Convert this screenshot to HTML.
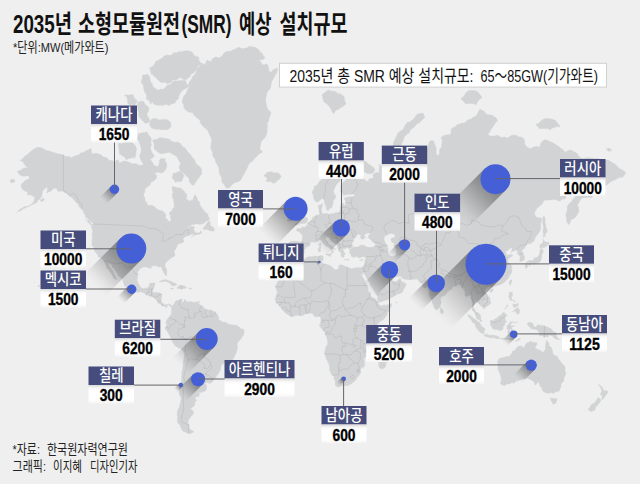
<!DOCTYPE html>
<html lang="ko"><head><meta charset="utf-8"><title>2035년 소형모듈원전(SMR) 예상 설치규모</title>
<style>html,body{margin:0;padding:0;background:#efefef;}body{width:640px;height:484px;overflow:hidden;}</style>
</head><body>
<svg width="640" height="484" viewBox="0 0 640 484" style="display:block;font-family:'Liberation Sans','Noto Sans CJK KR',sans-serif">
<defs>
<linearGradient id="gca" gradientUnits="userSpaceOnUse" x1="114.5" y1="189.3" x2="103.0" y2="200.8"><stop offset="0" stop-color="#000" stop-opacity=".42"/><stop offset=".3" stop-color="#000" stop-opacity=".30"/><stop offset=".6" stop-color="#000" stop-opacity=".15"/><stop offset=".85" stop-color="#000" stop-opacity=".04"/><stop offset="1" stop-color="#000" stop-opacity="0"/></linearGradient>
<linearGradient id="gus" gradientUnits="userSpaceOnUse" x1="131.3" y1="248.6" x2="94.6" y2="285.4"><stop offset="0" stop-color="#000" stop-opacity=".42"/><stop offset=".3" stop-color="#000" stop-opacity=".30"/><stop offset=".6" stop-color="#000" stop-opacity=".15"/><stop offset=".85" stop-color="#000" stop-opacity=".04"/><stop offset="1" stop-color="#000" stop-opacity="0"/></linearGradient>
<linearGradient id="gmx" gradientUnits="userSpaceOnUse" x1="131.7" y1="289.2" x2="120.2" y2="300.7"><stop offset="0" stop-color="#000" stop-opacity=".42"/><stop offset=".3" stop-color="#000" stop-opacity=".30"/><stop offset=".6" stop-color="#000" stop-opacity=".15"/><stop offset=".85" stop-color="#000" stop-opacity=".04"/><stop offset="1" stop-color="#000" stop-opacity="0"/></linearGradient>
<linearGradient id="gbr" gradientUnits="userSpaceOnUse" x1="206.8" y1="339.0" x2="180.1" y2="365.7"><stop offset="0" stop-color="#000" stop-opacity=".42"/><stop offset=".3" stop-color="#000" stop-opacity=".30"/><stop offset=".6" stop-color="#000" stop-opacity=".15"/><stop offset=".85" stop-color="#000" stop-opacity=".04"/><stop offset="1" stop-color="#000" stop-opacity="0"/></linearGradient>
<linearGradient id="gcl" gradientUnits="userSpaceOnUse" x1="180.9" y1="385.0" x2="175.5" y2="390.4"><stop offset="0" stop-color="#000" stop-opacity=".42"/><stop offset=".3" stop-color="#000" stop-opacity=".30"/><stop offset=".6" stop-color="#000" stop-opacity=".15"/><stop offset=".85" stop-color="#000" stop-opacity=".04"/><stop offset="1" stop-color="#000" stop-opacity="0"/></linearGradient>
<linearGradient id="gar" gradientUnits="userSpaceOnUse" x1="198.1" y1="379.2" x2="180.9" y2="396.3"><stop offset="0" stop-color="#000" stop-opacity=".42"/><stop offset=".3" stop-color="#000" stop-opacity=".30"/><stop offset=".6" stop-color="#000" stop-opacity=".15"/><stop offset=".85" stop-color="#000" stop-opacity=".04"/><stop offset="1" stop-color="#000" stop-opacity="0"/></linearGradient>
<linearGradient id="guk" gradientUnits="userSpaceOnUse" x1="295.6" y1="208.8" x2="266.2" y2="238.2"><stop offset="0" stop-color="#000" stop-opacity=".42"/><stop offset=".3" stop-color="#000" stop-opacity=".30"/><stop offset=".6" stop-color="#000" stop-opacity=".15"/><stop offset=".85" stop-color="#000" stop-opacity=".04"/><stop offset="1" stop-color="#000" stop-opacity="0"/></linearGradient>
<linearGradient id="gtn" gradientUnits="userSpaceOnUse" x1="319.5" y1="261.9" x2="316.6" y2="264.8"><stop offset="0" stop-color="#000" stop-opacity=".42"/><stop offset=".3" stop-color="#000" stop-opacity=".30"/><stop offset=".6" stop-color="#000" stop-opacity=".15"/><stop offset=".85" stop-color="#000" stop-opacity=".04"/><stop offset="1" stop-color="#000" stop-opacity="0"/></linearGradient>
<linearGradient id="geu" gradientUnits="userSpaceOnUse" x1="341.2" y1="227.7" x2="319.8" y2="249.1"><stop offset="0" stop-color="#000" stop-opacity=".42"/><stop offset=".3" stop-color="#000" stop-opacity=".30"/><stop offset=".6" stop-color="#000" stop-opacity=".15"/><stop offset=".85" stop-color="#000" stop-opacity=".04"/><stop offset="1" stop-color="#000" stop-opacity="0"/></linearGradient>
<linearGradient id="gne" gradientUnits="userSpaceOnUse" x1="404.6" y1="244.8" x2="390.9" y2="258.5"><stop offset="0" stop-color="#000" stop-opacity=".42"/><stop offset=".3" stop-color="#000" stop-opacity=".30"/><stop offset=".6" stop-color="#000" stop-opacity=".15"/><stop offset=".85" stop-color="#000" stop-opacity=".04"/><stop offset="1" stop-color="#000" stop-opacity="0"/></linearGradient>
<linearGradient id="gin" gradientUnits="userSpaceOnUse" x1="436.2" y1="283.3" x2="414.8" y2="304.7"><stop offset="0" stop-color="#000" stop-opacity=".42"/><stop offset=".3" stop-color="#000" stop-opacity=".30"/><stop offset=".6" stop-color="#000" stop-opacity=".15"/><stop offset=".85" stop-color="#000" stop-opacity=".04"/><stop offset="1" stop-color="#000" stop-opacity="0"/></linearGradient>
<linearGradient id="gme" gradientUnits="userSpaceOnUse" x1="389.5" y1="269.8" x2="368.1" y2="291.2"><stop offset="0" stop-color="#000" stop-opacity=".42"/><stop offset=".3" stop-color="#000" stop-opacity=".30"/><stop offset=".6" stop-color="#000" stop-opacity=".15"/><stop offset=".85" stop-color="#000" stop-opacity=".04"/><stop offset="1" stop-color="#000" stop-opacity="0"/></linearGradient>
<linearGradient id="gru" gradientUnits="userSpaceOnUse" x1="495.5" y1="179.2" x2="458.8" y2="215.9"><stop offset="0" stop-color="#000" stop-opacity=".42"/><stop offset=".3" stop-color="#000" stop-opacity=".30"/><stop offset=".6" stop-color="#000" stop-opacity=".15"/><stop offset=".85" stop-color="#000" stop-opacity=".04"/><stop offset="1" stop-color="#000" stop-opacity="0"/></linearGradient>
<linearGradient id="gcn" gradientUnits="userSpaceOnUse" x1="486.0" y1="264.2" x2="435.8" y2="314.4"><stop offset="0" stop-color="#000" stop-opacity=".42"/><stop offset=".3" stop-color="#000" stop-opacity=".30"/><stop offset=".6" stop-color="#000" stop-opacity=".15"/><stop offset=".85" stop-color="#000" stop-opacity=".04"/><stop offset="1" stop-color="#000" stop-opacity="0"/></linearGradient>
<linearGradient id="gsea" gradientUnits="userSpaceOnUse" x1="513.8" y1="334.2" x2="504.6" y2="343.4"><stop offset="0" stop-color="#000" stop-opacity=".42"/><stop offset=".3" stop-color="#000" stop-opacity=".30"/><stop offset=".6" stop-color="#000" stop-opacity=".15"/><stop offset=".85" stop-color="#000" stop-opacity=".04"/><stop offset="1" stop-color="#000" stop-opacity="0"/></linearGradient>
<linearGradient id="gau" gradientUnits="userSpaceOnUse" x1="531.2" y1="365.2" x2="517.5" y2="378.9"><stop offset="0" stop-color="#000" stop-opacity=".42"/><stop offset=".3" stop-color="#000" stop-opacity=".30"/><stop offset=".6" stop-color="#000" stop-opacity=".15"/><stop offset=".85" stop-color="#000" stop-opacity=".04"/><stop offset="1" stop-color="#000" stop-opacity="0"/></linearGradient>
<linearGradient id="gza" gradientUnits="userSpaceOnUse" x1="343.7" y1="378.8" x2="338.1" y2="384.4"><stop offset="0" stop-color="#000" stop-opacity=".42"/><stop offset=".3" stop-color="#000" stop-opacity=".30"/><stop offset=".6" stop-color="#000" stop-opacity=".15"/><stop offset=".85" stop-color="#000" stop-opacity=".04"/><stop offset="1" stop-color="#000" stop-opacity="0"/></linearGradient>
<linearGradient id="wb" x1="0" y1="0" x2="0" y2="1"><stop offset="0" stop-color="#d9d9d9"/><stop offset=".16" stop-color="#f7f7f7"/><stop offset=".3" stop-color="#fff"/><stop offset=".8" stop-color="#fff"/><stop offset="1" stop-color="#f4f4f4"/></linearGradient>
</defs>
<rect width="640" height="484" fill="#efefef"/>
<g fill="#d2d3d5" stroke="#d2d3d5" stroke-width=".4" stroke-linejoin="round">
<path d="M63.4,155.1 62.2,154.4 60.6,154.0 58.4,154.1 56.6,153.3 54.1,152.6 51.7,151.9 49.8,151.1 48.1,151.0 44.2,149.4 42.0,147.7 39.9,147.6 37.0,147.2 35.6,148.4 34.1,148.8 32.7,150.1 31.1,151.0 30.0,152.3 28.7,153.1 27.8,154.2 26.0,155.5 24.5,156.3 23.6,157.8 22.0,159.1 20.0,160.6 21.2,160.8 22.3,161.3 23.3,162.6 24.3,163.9 25.0,165.2 25.8,166.0 26.9,166.9 27.7,167.9 26.7,168.0 25.1,167.7 23.6,168.5 22.6,168.7 21.3,169.6 20.6,170.4 18.8,170.6 17.4,171.3 18.1,172.7 19.1,174.2 20.9,175.4 22.9,176.2 24.4,176.3 26.3,176.0 27.7,175.4 29.1,176.9 29.4,178.9 28.3,179.1 27.0,179.7 25.6,180.5 24.3,180.8 23.5,182.5 22.1,183.2 21.3,184.5 20.9,186.3 21.9,187.9 22.6,189.8 23.6,189.9 24.8,190.9 26.4,191.7 27.7,191.5 27.5,192.8 27.7,194.9 29.7,194.8 31.0,195.1 32.3,195.7 32.8,196.5 34.1,196.3 35.3,195.5 34.8,196.6 34.4,197.5 34.5,199.7 33.8,200.9 33.2,203.1 32.1,203.3 31.1,204.4 29.9,205.3 29.6,206.3 27.5,207.1 26.0,207.4 24.7,208.2 23.7,208.2 22.6,209.5 21.0,210.2 19.8,211.1 18.4,211.3 16.6,212.3 17.8,211.6 19.1,209.9 20.8,208.7 22.6,208.0 23.6,207.0 24.7,206.6 26.6,206.7 27.7,206.2 28.8,205.8 29.9,205.1 31.6,205.1 32.8,204.4 34.0,203.6 35.5,203.5 36.6,202.4 37.9,200.4 38.9,199.4 39.9,198.8 41.3,197.2 41.9,195.2 42.1,193.9 42.4,192.1 43.2,189.9 44.6,188.9 45.5,188.1 46.6,187.8 48.1,187.4 47.9,188.6 47.0,189.6 47.2,191.3 46.4,193.2 47.6,192.5 48.3,191.9 49.8,191.5 50.9,191.1 52.0,190.0 53.2,188.7 54.9,188.1 56.3,188.6 57.3,189.4 57.6,190.5 58.3,191.5 60.4,191.1 61.9,190.9 63.4,191.5 65.2,192.9 66.7,193.1 67.7,194.0 68.5,194.9 69.8,196.6 71.2,196.9 71.9,197.5 73.3,199.1 74.1,200.4 75.3,201.3 75.9,202.4 77.0,203.2 78.1,204.2 78.7,205.9 79.8,207.6 81.3,208.9 82.1,209.7 82.8,210.5 83.4,211.7 83.9,213.2 85.3,214.9 85.4,216.2 85.6,217.4 87.0,218.1 88.4,219.4 89.6,220.2 90.7,221.4 92.2,222.4 93.7,223.8 92.4,224.9 91.5,225.8 91.4,227.8 92.3,229.1 92.4,230.4 92.8,231.6 92.6,232.8 92.0,234.7 92.4,236.4 92.3,237.5 92.3,239.2 91.9,241.1 92.0,242.8 92.0,244.9 92.4,246.3 93.3,247.1 94.0,248.3 94.1,249.5 94.8,251.3 95.8,252.5 96.7,253.7 97.6,254.6 97.9,255.7 98.2,257.1 99.6,257.4 100.8,257.8 101.7,258.4 103.0,259.7 103.9,261.0 104.8,262.3 105.2,263.5 106.0,265.4 106.7,266.7 106.9,268.2 108.5,269.3 109.3,270.6 110.2,272.2 110.9,273.0 111.6,274.0 112.3,275.3 112.8,276.0 113.6,277.9 114.7,278.8 116.2,279.7 117.1,278.8 115.9,277.7 115.4,276.0 114.5,274.7 113.6,273.2 113.2,271.2 112.4,270.5 111.4,269.3 110.3,267.8 109.4,266.4 108.8,265.0 108.0,263.0 109.3,263.7 111.1,263.8 111.8,265.3 112.3,267.4 114.0,268.3 114.6,269.4 115.4,270.9 116.7,272.3 117.4,274.1 118.1,275.0 118.9,276.4 120.5,277.3 121.4,278.3 122.7,279.7 122.9,281.6 123.9,283.4 124.1,284.4 124.2,285.6 125.9,286.7 127.3,288.3 128.8,288.9 130.0,289.4 130.7,290.1 132.5,291.0 134.1,291.2 135.9,291.9 137.0,292.1 138.3,292.4 139.6,291.7 141.7,292.0 142.9,292.5 144.3,293.3 145.4,294.1 146.9,295.0 148.7,295.4 150.3,296.3 151.9,296.5 153.7,297.3 154.5,297.7 155.3,298.9 156.2,299.4 157.4,301.2 157.9,302.9 159.6,303.7 160.5,304.1 161.3,305.1 163.0,306.0 164.7,306.3 165.6,307.2 167.3,307.2 166.8,305.8 168.1,304.6 169.8,305.8 171.2,307.2 171.9,305.5 170.0,304.6 169.0,303.7 167.8,304.6 166.4,304.6 165.0,305.0 163.9,304.6 162.9,303.6 162.2,302.9 161.0,301.2 161.2,299.9 161.3,298.5 161.5,297.1 161.7,295.9 161.8,294.2 160.5,293.3 159.6,292.7 158.1,292.9 157.1,292.6 155.8,292.5 154.5,292.7 152.8,292.7 152.3,291.5 153.3,289.7 153.7,287.9 154.5,286.1 154.9,284.4 155.4,283.4 154.5,282.5 153.4,282.9 152.0,282.9 150.7,282.9 149.7,283.4 149.3,284.5 149.1,286.1 148.5,286.9 147.7,287.8 146.4,288.2 145.1,288.1 144.2,288.4 142.6,288.5 140.9,287.4 139.7,286.3 139.2,284.9 138.0,283.4 138.0,281.9 137.1,280.7 137.3,279.6 137.5,278.4 137.5,277.0 137.7,275.4 138.0,274.1 137.5,272.7 137.8,271.3 139.1,270.2 140.0,269.1 141.3,268.1 142.3,267.6 143.6,267.0 145.1,267.0 146.2,267.0 147.7,267.4 148.6,267.9 150.3,268.2 151.6,268.0 151.1,266.0 152.4,266.0 153.7,265.8 154.9,265.8 156.2,265.6 157.1,266.4 158.3,267.0 159.2,267.0 160.5,266.4 161.6,267.5 162.2,268.4 162.1,269.5 162.7,270.7 163.5,271.9 163.9,273.2 164.9,274.3 165.2,275.4 166.4,275.6 167.1,274.1 166.6,272.7 166.8,271.3 166.6,270.1 166.3,269.1 165.6,267.4 165.0,266.3 164.9,265.0 165.3,264.0 165.6,262.4 167.1,261.4 168.1,260.4 169.4,259.4 170.7,258.6 171.8,257.4 173.2,256.9 174.9,255.7 175.0,254.3 174.1,252.5 174.1,251.3 174.9,250.0 175.9,248.9 176.6,247.1 177.1,245.5 177.5,244.5 179.4,243.6 180.9,243.3 182.4,242.7 183.5,242.0 184.3,241.1 183.4,240.2 182.9,239.2 183.8,237.9 184.3,236.9 186.0,236.6 186.9,235.8 188.3,235.7 189.6,234.9 191.3,234.1 192.7,234.2 193.9,233.9 193.2,235.9 192.0,236.5 191.1,237.6 192.7,236.2 194.6,235.5 195.9,234.7 197.3,234.4 198.6,234.5 199.9,233.9 201.0,233.4 201.7,232.6 201.0,230.6 200.2,232.0 198.3,233.0 196.4,232.8 194.9,232.2 194.4,230.4 193.5,229.6 193.9,228.2 194.6,226.9 193.3,226.6 191.2,226.3 190.2,226.6 189.4,227.6 187.7,227.6 186.7,228.4 185.0,229.6 184.2,230.3 183.1,231.0 184.8,229.9 185.9,228.2 187.1,227.8 188.2,226.4 189.5,226.3 190.5,225.5 191.4,225.1 192.6,224.5 194.1,224.5 195.7,224.0 197.6,223.8 199.7,224.6 201.4,223.9 202.5,223.8 203.9,223.3 204.7,222.8 205.3,221.6 206.9,221.0 208.7,220.7 208.9,219.4 209.6,218.6 208.5,217.0 208.2,215.8 207.9,214.3 207.1,213.3 205.7,212.7 204.9,211.3 203.7,210.5 202.7,208.7 201.7,207.8 201.1,206.6 200.3,205.9 199.8,204.4 199.9,203.4 199.4,202.1 198.6,201.0 197.4,200.0 197.1,198.3 196.9,197.2 196.0,196.2 195.2,194.5 194.5,195.7 193.5,197.2 193.4,198.7 192.6,199.9 190.6,200.4 189.2,201.2 187.8,199.7 185.8,198.9 186.6,197.9 186.9,196.5 186.6,194.9 186.7,193.8 185.9,193.4 184.8,192.4 184.1,191.0 183.2,190.0 182.0,189.5 180.7,187.8 179.4,187.9 178.4,188.0 176.4,187.4 175.4,187.1 174.0,186.7 172.2,186.7 172.0,187.8 172.1,189.4 172.7,190.5 173.0,192.1 172.7,193.3 172.2,194.5 172.6,195.9 172.2,197.2 173.0,198.4 173.5,199.4 173.6,201.1 173.9,202.1 174.1,203.7 173.9,205.1 174.7,206.9 173.8,207.4 172.8,208.2 172.2,209.9 171.2,211.5 169.6,212.3 169.4,214.3 170.3,215.5 170.5,217.2 171.0,219.0 170.9,221.1 169.5,221.3 167.8,221.6 167.8,220.3 167.1,219.2 165.4,217.8 165.8,215.8 165.4,214.3 164.9,212.9 163.7,212.3 162.8,210.8 160.7,210.6 159.4,210.5 158.4,209.8 157.3,209.1 156.3,208.4 155.2,207.5 154.3,206.4 153.3,205.9 152.4,205.5 150.9,205.3 149.3,205.4 147.5,205.3 147.2,203.5 146.5,202.1 145.7,201.5 144.8,200.2 144.9,198.9 145.1,197.9 143.8,196.3 143.5,195.0 143.9,193.3 144.9,192.2 144.8,190.0 145.7,188.2 146.8,187.4 147.5,186.7 148.6,185.8 149.4,185.4 150.4,184.2 150.6,182.9 151.6,181.7 153.5,181.1 154.4,180.5 155.2,179.4 156.5,177.9 156.6,176.5 156.9,175.7 155.9,174.8 155.3,174.1 153.5,173.8 154.7,173.8 155.9,172.9 157.7,171.9 159.2,172.5 160.3,172.7 161.3,173.1 162.8,172.7 164.0,171.5 165.4,169.9 166.2,168.4 166.6,166.8 167.0,165.2 166.6,163.8 166.4,162.7 165.5,161.7 165.0,160.1 165.4,158.6 163.6,158.7 162.5,158.8 161.1,158.2 160.0,159.5 159.4,160.8 159.4,161.7 159.4,162.9 158.9,164.2 158.6,165.4 157.7,166.7 156.5,165.9 154.3,165.9 153.4,164.0 152.6,162.5 151.8,161.7 151.3,160.5 150.1,159.5 149.1,158.5 147.5,157.3 146.8,155.7 145.4,153.5 145.2,151.7 144.8,149.9 143.5,149.1 142.1,147.9 141.9,149.9 141.8,151.2 141.2,152.4 140.3,153.8 139.6,156.2 139.9,158.0 140.7,159.4 141.2,160.7 141.9,161.6 142.6,162.8 143.1,163.7 143.0,165.2 141.6,165.1 140.7,165.4 139.3,165.4 138.2,164.5 136.6,164.1 135.2,163.6 133.9,164.0 131.8,163.4 130.2,162.9 129.5,162.2 128.0,161.8 126.5,161.4 124.7,161.1 123.1,161.1 122.2,161.7 120.5,162.4 119.6,163.1 118.6,161.2 118.8,159.8 117.4,160.2 116.3,160.3 115.4,161.4 114.5,161.9 112.8,160.6 111.2,160.6 109.4,160.6 108.2,159.0 106.8,157.7 105.6,157.5 104.5,157.1 102.6,156.4 101.7,155.4 101.1,154.5 99.4,154.4 97.5,153.3 95.6,153.6 93.9,153.5 92.8,153.7 91.5,153.3 91.5,151.2 91.5,149.7 90.7,148.6 88.8,149.5 87.5,149.9 85.6,151.0 84.9,151.6 83.7,152.4 82.2,152.5 80.4,153.3 79.6,154.0 78.7,155.0 77.6,155.0 76.2,155.5 74.6,156.1 73.4,156.5 71.9,157.7 70.9,157.2 69.8,156.8 67.7,156.4 66.5,156.5 65.0,156.3Z"/>
<path d="M171.9,305.5 172.7,306.3 173.2,305.1 174.1,304.1 174.8,302.9 174.9,301.8 176.1,301.0 177.3,300.4 178.4,300.6 179.4,299.8 180.9,299.1 182.1,299.8 181.4,301.5 182.3,302.9 183.7,301.4 184.3,300.3 184.8,299.2 185.7,300.5 186.9,301.5 188.6,301.9 189.9,301.6 191.1,301.8 192.3,302.1 193.7,302.5 195.7,301.9 197.1,301.7 197.6,302.6 198.8,303.7 199.9,304.7 200.5,305.5 201.8,306.3 203.0,306.3 204.1,307.9 205.6,309.3 207.3,309.7 209.0,309.9 210.3,310.3 211.6,310.1 212.2,310.9 213.4,311.6 215.0,311.8 215.9,312.5 216.7,314.0 217.8,315.0 218.4,316.9 218.7,318.2 218.4,319.5 220.1,320.5 221.3,321.4 223.1,322.2 225.2,322.0 226.9,322.7 228.1,324.3 229.0,324.3 230.3,324.6 232.0,324.8 233.5,324.9 235.4,324.9 237.0,325.5 237.9,326.3 239.3,327.0 240.5,328.2 241.9,329.0 243.4,329.0 244.1,330.3 244.2,332.3 244.0,333.3 243.9,334.5 243.0,335.7 242.2,337.1 241.3,338.2 240.2,339.7 239.2,340.7 237.9,342.3 237.2,343.8 237.1,345.8 237.5,347.0 237.6,348.1 237.5,349.3 236.8,350.3 236.5,352.3 235.7,353.9 235.1,355.3 234.6,356.3 234.0,357.5 233.4,358.9 232.0,360.3 230.6,360.8 228.6,360.6 227.6,361.2 226.5,361.9 224.7,362.1 223.6,363.8 222.5,364.2 221.4,365.3 220.8,367.3 220.7,368.7 220.4,370.1 219.9,371.3 219.2,372.0 218.4,373.6 217.6,375.0 216.7,375.6 215.9,377.6 214.6,378.6 213.2,380.0 212.4,381.6 211.5,382.4 209.9,383.5 208.8,383.2 207.9,382.5 206.4,382.7 205.3,382.6 204.1,382.2 205.4,383.3 206.1,384.7 206.4,385.9 206.8,386.8 206.4,388.6 205.7,390.5 203.9,391.7 202.3,392.0 200.6,392.6 199.0,392.2 199.2,393.5 199.4,395.5 198.6,396.2 197.4,396.7 196.3,397.0 194.9,396.7 195.5,398.3 195.7,400.1 197.1,400.1 195.5,401.2 194.9,402.4 194.9,404.3 194.0,406.0 193.1,406.5 192.1,407.6 190.6,408.4 191.4,409.8 193.2,410.9 193.6,412.1 193.2,413.4 192.9,414.5 191.8,415.7 190.3,417.3 189.5,418.9 188.1,419.9 188.3,421.4 188.1,423.5 189.1,425.1 189.1,426.3 188.9,427.4 189.6,428.9 190.6,429.7 191.7,430.5 192.7,430.7 194.0,431.7 192.7,432.4 191.5,433.2 189.7,433.5 188.1,433.8 186.6,432.4 184.7,432.0 183.5,431.6 182.5,430.7 181.8,429.4 181.2,428.2 180.5,427.0 180.3,425.8 179.6,424.5 178.7,424.0 177.5,422.2 177.6,421.0 177.3,419.4 177.4,418.2 177.8,417.1 177.5,416.1 177.0,414.7 177.2,413.2 177.4,412.2 177.3,410.9 178.3,409.0 179.5,407.2 179.5,405.1 180.4,403.6 180.5,402.2 180.6,401.3 180.9,400.2 181.2,398.9 180.9,397.3 179.8,395.5 179.3,393.9 179.4,392.8 179.1,391.1 179.3,389.2 178.9,387.9 179.8,386.5 179.9,384.7 180.4,383.1 181.2,382.2 181.6,381.1 181.6,379.6 181.3,377.6 181.8,375.6 181.9,374.6 181.7,373.3 181.9,371.6 182.4,370.0 182.6,368.9 182.8,367.8 183.2,365.9 183.5,364.0 183.1,363.0 183.2,361.8 183.4,360.8 183.8,359.3 183.9,357.6 184.3,355.9 184.0,354.8 184.1,353.3 183.8,351.7 182.9,350.4 181.8,349.9 180.3,348.5 178.4,348.1 177.0,347.1 176.3,346.4 174.9,345.8 174.3,344.3 173.4,343.2 172.5,342.2 172.1,340.6 171.7,339.4 171.3,338.3 170.3,337.1 169.5,335.4 169.0,334.0 167.9,333.0 167.5,331.6 166.8,330.6 165.6,329.9 165.4,329.0 165.1,327.7 165.8,326.6 166.8,325.8 167.5,324.3 165.8,323.7 166.1,321.7 166.6,320.6 167.1,319.5 168.1,318.3 169.3,317.3 170.2,315.6 170.9,314.9 171.5,313.5 171.3,312.3 171.5,310.6 171.7,308.6 171.2,307.2Z"/>
<path d="M316.4,202.1 315.8,201.2 314.6,200.5 313.9,199.1 313.5,197.2 313.3,195.1 312.4,193.2 312.3,191.8 313.0,190.3 314.1,188.7 314.0,187.3 314.7,185.9 316.1,185.7 316.8,184.9 318.2,183.6 319.0,182.1 319.4,181.2 320.7,180.3 322.4,179.0 322.7,177.8 323.4,176.7 324.6,175.2 325.8,173.7 326.6,172.5 328.0,171.1 327.8,169.3 328.3,168.2 329.6,166.9 329.9,165.5 330.9,164.3 332.0,163.3 333.3,163.0 334.4,160.8 335.1,159.4 336.2,158.9 338.1,158.0 339.2,157.8 340.3,156.8 341.3,155.3 342.4,154.8 343.7,154.6 345.4,153.8 346.7,153.2 348.8,153.3 350.5,154.1 352.1,154.2 353.0,153.8 354.2,154.5 355.4,155.2 356.0,156.1 357.3,156.8 356.7,157.9 355.6,159.4 357.4,159.6 358.6,159.9 359.7,160.1 360.7,160.7 362.2,160.7 363.1,160.3 364.3,160.9 365.8,161.5 367.0,162.2 368.1,163.7 369.2,164.5 370.9,165.5 372.2,166.4 373.7,167.7 374.5,168.8 374.7,170.1 374.2,171.3 373.5,173.0 372.1,173.0 371.1,173.6 369.2,173.7 367.8,173.4 366.2,173.2 365.1,172.3 364.1,171.9 362.9,171.1 360.7,170.8 360.7,172.2 361.5,173.7 362.7,174.5 363.2,175.5 363.5,176.9 363.9,177.8 364.1,179.8 365.3,180.0 366.6,181.2 368.4,181.4 368.4,180.2 369.2,179.0 370.5,178.6 372.6,178.6 373.3,176.9 372.9,175.5 372.9,174.5 374.1,173.9 374.9,173.3 376.0,172.3 377.4,172.5 379.4,173.0 379.4,171.8 378.9,170.6 379.1,169.4 379.4,168.2 379.4,167.2 379.5,165.8 378.6,164.3 379.6,165.0 380.8,165.3 382.8,166.3 382.8,167.4 382.5,168.8 382.8,170.5 383.6,169.2 384.4,168.5 386.2,167.8 387.0,167.2 388.1,166.4 390.0,165.6 391.3,164.7 392.4,165.3 394.0,165.4 395.1,165.1 396.4,165.5 397.3,164.3 398.1,163.9 399.9,163.9 401.4,163.6 403.3,162.7 404.4,162.0 405.8,161.7 407.0,160.6 407.5,159.4 408.5,160.9 408.4,163.1 409.8,162.7 411.1,162.0 412.3,161.9 413.5,161.1 415.1,161.5 416.9,162.3 418.0,163.2 418.6,163.9 419.6,164.7 421.1,165.5 421.2,164.2 422.1,162.6 422.9,160.7 424.0,160.0 425.1,158.6 425.4,156.0 425.7,153.5 426.0,150.0 427.6,148.3 428.1,145.5 428.8,143.1 430.0,141.0 431.8,140.5 432.8,140.7 434.0,141.0 434.1,142.8 435.0,145.0 435.7,146.2 436.0,147.5 436.1,149.1 436.1,151.7 436.2,153.6 438.0,156.0 439.5,153.8 439.6,151.9 439.5,150.1 440.0,149.0 441.5,146.9 441.9,143.4 442.3,140.4 441.0,137.5 442.2,136.9 442.9,135.9 443.9,135.4 445.0,135.0 446.6,134.9 447.9,134.7 449.2,134.7 451.0,134.0 451.1,132.3 451.1,130.5 451.6,128.9 452.5,127.5 454.4,127.3 456.3,125.6 457.6,124.3 460.0,124.0 461.8,123.0 463.9,123.0 465.7,122.2 467.5,120.0 469.2,119.6 471.6,118.6 473.7,116.9 476.0,116.0 477.2,114.2 478.2,111.8 479.3,110.3 480.0,109.0 481.2,110.1 482.9,110.7 484.3,111.3 485.0,112.5 486.0,113.7 487.0,114.4 488.5,114.7 490.0,115.0 491.3,114.9 492.8,115.3 494.2,117.0 496.0,117.5 497.0,119.4 497.5,121.0 496.1,122.0 495.0,123.6 493.7,125.4 492.5,127.5 491.4,128.8 490.8,130.2 489.2,132.7 487.5,134.0 488.6,134.7 490.0,136.0 492.2,136.0 493.9,136.3 495.5,135.7 497.5,135.0 498.8,136.0 501.0,137.4 504.6,136.9 507.5,138.0 509.9,136.4 511.6,135.3 513.7,135.2 515.0,135.0 516.7,135.4 518.2,136.7 520.7,136.9 522.5,137.5 523.5,138.6 524.5,140.6 524.7,143.2 525.0,145.0 526.2,145.9 527.4,147.6 529.1,148.1 530.0,148.8 533.5,147.1 535.9,146.5 538.5,146.7 540.0,147.5 540.1,145.8 540.5,143.5 541.9,142.3 542.5,141.0 545.0,139.8 546.7,140.0 549.8,141.6 552.5,142.5 554.0,143.4 555.5,144.5 558.3,146.2 560.0,147.5 561.4,148.9 562.7,149.5 563.9,150.4 565.0,152.5 566.3,151.5 568.0,150.8 569.5,150.2 571.0,150.0 572.3,150.6 573.8,151.7 575.8,152.6 577.5,153.8 578.0,154.5 578.5,155.8 579.1,156.5 580.0,157.5 583.1,158.6 585.7,157.9 588.2,157.6 590.0,158.0 592.5,158.1 594.5,158.5 596.6,158.5 598.0,158.0 599.5,159.0 601.4,160.0 603.2,160.3 605.0,160.0 606.3,159.9 608.3,160.1 610.3,161.3 612.5,162.5 615.1,164.3 617.1,166.1 618.5,168.1 620.0,168.8 621.8,169.8 623.8,170.9 624.8,171.9 626.0,172.5 624.8,173.7 624.5,175.1 623.2,176.5 622.5,177.5 620.4,177.3 618.6,177.7 616.4,179.1 615.0,180.0 613.7,180.1 612.3,181.1 610.9,181.6 610.0,182.5 608.8,183.2 607.7,184.4 606.1,185.4 605.0,186.0 604.4,187.3 603.7,188.7 602.5,189.6 601.4,190.8 599.7,191.4 597.8,191.2 596.9,191.4 595.8,192.2 594.9,193.4 594.4,194.4 593.8,195.4 592.5,196.2 591.5,197.5 589.8,197.6 588.7,197.3 586.9,197.7 585.0,197.5 583.4,197.9 581.6,198.2 580.9,199.2 580.1,200.6 579.5,201.2 579.0,202.5 578.4,203.7 577.3,204.8 578.0,206.0 578.6,207.2 578.5,208.8 579.0,209.8 578.7,211.3 578.5,212.5 577.3,214.0 576.8,215.6 575.9,216.8 574.8,217.8 573.9,218.6 572.6,219.1 571.4,219.5 570.4,221.1 570.1,223.0 569.0,223.7 568.3,224.7 567.7,222.9 566.7,222.1 566.6,220.6 566.8,219.2 566.2,217.3 566.0,216.0 565.9,214.4 566.3,213.4 566.4,212.4 567.2,211.0 567.4,209.5 567.1,207.3 567.7,205.7 568.8,204.1 570.5,202.6 571.8,202.0 572.1,200.3 573.1,199.2 573.7,198.4 574.9,197.4 575.6,196.3 576.5,195.8 577.6,194.4 578.8,193.0 579.2,191.3 579.9,190.5 578.5,191.6 577.4,191.8 576.2,191.4 574.8,191.6 572.6,191.2 571.0,191.2 569.8,191.3 568.8,192.3 567.7,193.3 566.6,194.3 565.8,196.0 565.4,198.5 563.6,199.3 562.2,199.0 561.1,199.8 560.3,200.9 558.5,200.9 557.1,200.2 555.2,199.2 553.5,199.8 551.5,199.7 550.5,200.0 549.2,199.9 547.2,200.3 545.8,200.1 544.1,200.2 543.5,201.8 542.4,203.5 541.6,204.6 539.9,205.7 538.7,207.1 537.4,207.6 536.5,208.9 536.0,210.3 535.1,211.1 534.8,212.5 534.4,213.7 535.2,215.2 535.8,216.8 537.5,217.5 538.4,217.8 539.9,217.8 541.2,218.0 542.1,218.6 541.8,219.8 541.4,220.9 541.0,222.5 540.7,223.4 540.4,224.9 540.8,226.6 540.7,228.7 540.2,230.3 539.3,232.0 538.8,232.9 538.2,233.9 537.4,234.9 536.1,235.9 535.3,236.9 535.1,238.6 534.1,240.4 533.5,241.2 532.7,242.3 531.0,242.9 529.5,244.2 527.8,243.0 527.1,244.2 526.2,244.9 525.6,246.3 524.8,247.7 523.9,248.7 523.1,249.7 521.6,250.7 521.9,251.8 522.9,252.7 523.5,254.7 524.4,256.4 524.5,257.4 524.5,258.9 523.8,260.3 521.9,260.9 520.7,261.5 519.7,261.6 520.0,260.1 519.7,259.1 520.1,257.4 519.9,256.1 519.0,255.1 517.8,254.6 517.5,253.8 517.3,252.4 517.8,250.7 516.1,249.8 514.9,250.4 513.1,251.3 512.0,252.0 511.0,252.2 511.8,250.6 512.2,248.5 510.5,247.6 509.6,248.7 508.9,249.5 508.0,250.2 506.2,251.2 505.1,251.8 505.8,252.6 506.3,254.0 507.1,255.5 508.6,255.1 510.2,254.6 511.7,254.8 513.1,255.5 511.6,256.2 510.5,257.2 508.8,258.2 508.1,259.5 507.6,260.3 508.3,262.4 509.3,263.4 510.5,264.3 511.2,265.2 511.9,266.8 511.8,268.3 511.4,269.4 512.2,270.4 511.7,272.0 511.4,273.3 510.3,274.1 509.7,275.8 508.6,277.5 508.0,278.9 506.5,279.9 505.9,281.0 504.8,281.8 503.7,282.8 502.4,283.6 501.2,284.3 499.9,284.8 498.6,285.0 497.3,285.5 496.1,286.0 494.5,286.3 492.6,286.9 492.3,288.7 491.5,286.7 490.2,286.4 489.2,286.1 487.9,287.1 486.7,287.4 486.1,288.6 485.7,289.5 484.6,290.5 485.1,291.6 485.8,293.2 487.2,294.1 488.1,295.9 489.3,297.2 490.1,298.2 490.0,300.3 490.6,301.7 490.8,302.7 490.4,303.9 489.1,304.4 488.4,305.5 487.2,306.1 486.3,306.4 485.8,307.7 484.9,308.1 483.6,309.1 483.1,308.0 482.9,306.9 482.1,306.4 480.7,306.0 479.8,305.0 479.4,303.8 478.3,303.1 476.5,302.2 476.0,300.8 474.8,301.1 475.0,302.5 474.4,303.8 473.6,304.9 473.4,306.4 473.7,308.1 474.2,309.2 475.3,309.8 475.3,310.8 475.8,312.1 477.7,312.6 478.2,313.5 479.5,314.1 480.2,314.9 480.7,316.3 480.9,318.1 480.7,319.2 481.7,320.3 481.9,321.6 480.6,321.6 479.5,320.1 478.6,319.5 477.3,319.2 476.6,318.3 476.0,316.7 475.7,315.2 475.3,313.8 475.0,312.7 473.9,311.7 473.2,310.9 472.0,310.3 472.1,309.1 471.9,308.1 471.9,306.9 472.6,305.2 472.3,303.9 472.4,302.5 471.8,301.2 471.7,299.9 471.1,298.9 470.9,297.3 470.5,295.5 468.8,295.3 467.7,296.3 466.8,296.7 465.1,296.0 465.0,294.7 465.1,292.8 464.8,291.2 464.0,290.1 463.3,288.6 462.0,287.8 461.4,286.4 461.0,285.2 460.0,285.0 458.6,284.7 457.4,285.1 456.0,286.0 454.3,286.3 452.6,286.7 452.3,288.3 451.6,289.2 450.1,290.0 449.2,290.6 448.4,291.4 447.2,292.2 446.3,293.5 445.4,294.9 444.1,295.5 443.0,296.3 441.6,296.7 440.8,297.9 440.7,299.0 440.6,300.4 441.2,301.7 441.2,303.1 440.5,304.3 440.4,306.4 439.9,307.2 439.0,308.1 437.7,309.0 436.5,310.2 435.7,309.3 434.8,308.6 433.9,307.2 433.6,305.2 432.6,303.7 432.2,302.5 432.0,301.1 432.0,300.2 431.0,299.0 430.3,297.8 429.6,295.9 429.4,294.7 429.7,293.3 428.6,291.4 428.3,290.1 428.3,288.3 428.0,287.5 428.1,286.1 427.1,287.0 425.4,288.0 423.7,287.4 423.0,286.2 422.0,285.0 423.0,284.4 424.2,283.9 423.0,283.8 421.3,283.2 420.0,282.6 419.4,281.9 418.4,280.4 417.7,279.3 415.9,279.0 414.3,279.6 413.2,279.3 411.8,279.7 410.1,279.8 409.0,279.3 407.5,279.4 406.1,279.4 404.6,279.3 403.4,278.8 402.1,278.5 401.7,277.1 401.2,276.2 399.7,276.2 398.8,276.1 397.3,277.0 395.6,276.0 394.1,275.3 392.8,274.2 391.3,272.8 390.8,271.3 390.0,270.4 389.0,270.1 387.9,269.6 387.1,270.4 386.2,271.4 386.6,272.8 386.9,274.1 387.6,274.9 389.1,275.8 389.6,276.8 390.1,278.7 391.7,277.9 392.2,278.9 392.4,280.0 391.8,281.1 393.9,281.5 395.2,281.5 396.4,281.5 397.9,280.6 398.7,279.4 399.6,278.6 400.2,277.7 400.4,278.7 400.5,280.0 401.2,281.5 402.4,281.7 404.1,282.6 405.7,283.7 406.3,284.7 405.3,286.6 404.4,288.3 403.4,289.3 402.9,291.0 402.6,291.9 401.6,292.8 400.1,293.4 399.0,293.7 397.6,294.0 396.4,294.6 394.9,295.8 393.4,296.4 392.3,297.2 391.5,297.7 389.6,298.2 388.5,299.4 387.1,299.9 385.1,300.2 383.7,301.0 382.3,301.3 381.1,302.0 379.9,302.0 378.6,302.2 378.1,300.8 377.4,299.3 377.4,298.2 377.5,296.7 377.2,295.5 376.4,293.9 375.2,292.8 374.4,291.5 373.5,290.1 372.8,288.7 372.5,287.7 371.2,286.5 370.2,285.1 370.2,283.8 370.1,282.8 368.6,281.8 367.8,280.0 367.2,278.7 366.1,277.2 365.4,275.3 364.4,274.3 363.8,273.1 363.9,271.4 363.0,273.0 362.9,274.3 362.7,274.9 361.5,273.3 360.4,272.2 360.0,270.6 360.1,269.1 359.5,267.8 360.9,267.4 362.4,267.8 362.7,266.6 363.8,265.4 364.7,264.3 364.9,262.6 364.7,261.1 365.5,259.3 366.0,258.5 366.0,257.0 364.4,256.9 363.2,256.7 361.5,257.1 359.8,258.0 357.9,257.6 356.6,256.5 354.9,256.7 353.9,257.6 352.8,257.1 351.3,256.5 350.8,254.4 349.6,252.9 349.6,251.9 350.1,250.7 349.1,249.3 350.2,249.3 351.3,248.7 352.6,248.5 353.9,247.8 353.9,247.1 356.0,247.0 357.3,246.9 358.7,246.3 359.7,245.9 360.7,245.1 362.8,245.2 364.1,245.1 364.9,246.2 366.6,246.7 368.2,247.3 370.1,247.3 371.6,247.1 372.6,247.3 373.6,246.6 375.2,246.2 375.6,244.9 375.2,243.9 374.2,242.3 372.6,241.6 371.6,240.5 370.1,239.2 369.3,238.4 368.0,237.5 368.5,236.3 369.2,234.4 370.5,233.7 371.2,232.6 369.7,232.9 368.4,233.1 366.6,233.3 365.5,233.9 364.6,234.6 364.4,236.0 364.9,237.3 366.6,237.5 365.2,237.6 364.1,238.5 362.9,239.2 361.7,239.2 360.8,237.9 359.8,237.0 360.6,236.3 361.5,235.3 360.2,234.7 359.0,234.4 356.9,234.4 356.4,236.4 355.1,237.5 353.9,239.0 353.4,240.4 352.7,241.7 352.2,242.7 352.1,243.9 351.8,245.1 352.5,246.4 353.9,246.9 351.9,247.7 350.5,248.2 349.1,248.9 348.8,247.8 347.7,248.1 346.2,247.6 345.4,249.1 343.5,248.5 343.1,249.6 343.2,250.7 344.2,252.2 345.4,254.0 344.0,255.0 344.2,256.0 343.8,257.2 342.6,257.2 341.4,256.5 340.8,254.6 341.4,253.3 340.3,252.2 339.4,251.7 338.9,250.5 338.6,249.5 337.7,248.5 337.6,247.2 337.5,246.2 336.9,244.6 335.8,243.3 334.3,242.7 333.2,241.7 331.7,241.3 330.7,240.3 330.0,239.2 329.2,237.5 327.8,236.6 326.6,236.6 325.6,237.3 325.9,238.5 325.6,239.7 326.4,240.5 327.7,241.6 328.2,242.8 329.2,244.4 330.6,245.0 331.7,245.3 332.2,246.2 333.4,247.3 334.1,248.4 336.0,249.1 334.6,249.1 333.8,248.7 332.8,250.2 333.6,251.8 332.8,252.8 332.1,253.5 331.2,254.0 331.7,252.8 331.7,251.8 331.7,250.6 330.9,249.3 329.2,248.0 328.1,246.9 326.6,246.7 325.5,246.0 324.6,244.6 323.5,243.7 322.4,242.7 322.0,241.8 321.9,240.4 320.8,240.3 319.5,239.5 318.5,240.4 317.3,240.9 316.1,241.6 314.7,242.5 313.3,242.1 312.2,241.8 310.5,242.0 310.2,243.3 309.8,244.1 309.9,245.5 308.2,246.4 306.7,247.1 305.9,247.8 304.9,249.4 304.0,250.7 304.7,252.4 303.7,253.5 303.3,254.6 302.3,255.7 301.1,256.5 299.1,256.9 297.0,256.7 295.3,258.0 293.8,257.0 292.6,255.7 290.8,255.9 289.3,256.1 289.0,254.2 289.5,252.9 288.3,252.4 288.6,251.0 289.3,249.1 289.7,247.8 289.7,246.2 289.0,244.9 288.8,244.0 288.8,242.7 289.9,242.1 290.9,241.1 292.4,241.5 294.3,241.3 295.8,241.3 297.0,241.3 298.0,241.6 299.3,242.1 301.4,241.8 302.1,240.6 302.3,238.7 302.4,237.3 302.6,236.3 302.0,234.9 300.8,233.4 300.2,232.4 299.0,231.4 297.8,231.4 296.8,230.8 296.5,229.3 297.9,228.5 299.4,228.5 300.5,228.5 301.8,229.1 301.8,227.6 301.6,226.2 302.6,226.9 304.2,227.2 306.0,226.6 307.1,225.1 307.4,223.0 308.9,222.6 309.9,221.6 310.8,220.2 311.7,219.7 312.5,218.6 312.7,217.2 313.9,216.7 315.1,215.8 317.0,214.9 318.5,215.2 319.5,213.7 319.8,212.2 319.4,210.9 319.1,209.9 318.8,209.0 318.6,207.5 318.3,205.9 319.5,205.1 320.7,204.7 321.7,204.0 322.5,203.1 322.4,204.6 322.3,205.9 322.2,206.9 321.6,208.1 321.5,209.9 321.2,212.0 321.9,212.7 323.1,213.7 324.9,213.7 326.3,213.2 327.8,213.5 328.8,214.6 330.7,213.8 332.1,213.5 333.9,213.6 334.8,213.1 336.0,212.3 337.2,212.6 338.2,213.2 339.1,212.2 339.9,210.8 340.3,209.5 340.4,208.4 340.5,206.6 340.4,205.3 341.3,204.4 342.8,203.1 343.6,204.1 344.5,205.3 345.7,204.7 345.5,203.2 346.0,201.2 345.0,200.3 344.5,199.5 344.5,197.9 346.0,197.6 347.1,197.2 348.7,196.8 349.8,196.5 351.8,197.2 353.5,196.2 354.5,196.0 355.9,195.9 354.0,194.9 353.0,193.5 351.4,194.3 349.9,194.3 348.8,194.1 347.8,194.5 346.4,194.4 345.2,194.7 343.7,195.5 342.8,193.8 341.9,192.8 340.8,192.1 340.7,190.9 340.9,189.9 340.7,188.3 340.8,186.7 341.1,184.8 342.0,183.7 343.3,182.3 344.3,181.4 345.6,180.2 346.2,179.0 346.6,178.0 347.6,176.6 346.7,175.9 346.2,174.5 344.3,174.6 342.3,175.2 341.3,176.9 341.1,179.0 339.9,180.4 339.4,182.1 337.6,183.0 336.7,184.5 336.0,185.6 335.2,186.8 334.8,187.9 334.0,189.6 333.6,191.3 333.8,193.1 334.8,194.8 336.0,195.5 335.6,196.6 335.5,197.9 334.4,199.5 333.1,200.2 333.1,201.6 333.2,202.8 332.8,203.9 332.6,205.3 332.4,206.4 331.7,207.8 330.7,208.0 329.2,208.4 328.7,210.2 326.6,210.2 326.7,209.1 326.1,207.8 326.0,206.0 325.4,205.0 324.6,203.7 324.6,201.9 324.3,200.8 323.7,199.5 322.5,197.9 321.6,198.8 320.7,199.5 319.4,200.8 318.5,201.8Z"/>
<path d="M360.0,270.6 360.2,269.4 359.5,267.8 358.5,267.8 357.3,267.4 355.6,268.0 353.9,268.1 352.2,268.4 350.8,268.5 349.5,267.9 347.9,267.2 346.2,266.8 344.5,266.0 342.8,265.5 342.0,264.6 340.2,265.1 338.6,265.8 338.8,267.3 338.6,268.4 337.7,269.4 336.6,269.6 335.1,269.8 333.8,268.4 332.6,268.0 331.7,266.4 330.6,265.8 328.6,265.1 327.0,264.6 325.3,264.1 324.1,264.0 322.9,263.6 321.9,262.8 321.5,261.8 322.9,260.3 323.3,258.7 322.9,257.2 323.2,256.1 321.9,255.7 321.2,255.5 320.1,255.7 319.0,256.3 317.5,256.5 315.6,256.1 314.5,256.0 313.0,256.5 311.1,256.7 309.6,256.5 307.5,257.0 306.2,257.6 304.7,259.0 302.8,259.3 300.8,260.1 299.5,259.5 298.5,259.7 297.2,259.5 295.5,258.4 294.5,258.6 293.7,260.0 293.4,261.3 292.3,262.4 291.6,263.2 290.1,264.0 289.2,265.4 288.3,266.5 287.8,267.8 287.7,269.0 288.0,270.4 287.3,271.5 286.6,272.4 285.2,273.1 284.1,274.3 282.0,274.9 280.6,276.4 279.8,277.6 279.5,279.0 279.2,279.9 277.9,280.9 277.6,281.9 277.0,283.0 276.4,284.7 275.6,286.0 275.6,287.4 276.5,288.9 276.7,290.1 277.3,291.5 277.3,292.8 276.4,294.6 276.4,296.4 275.8,297.4 274.9,298.7 275.2,299.8 275.9,300.8 276.1,302.7 277.5,303.4 278.1,304.3 279.0,305.5 280.0,306.8 281.0,307.6 282.0,309.5 282.7,310.2 283.6,311.2 285.1,312.4 285.9,313.1 286.8,314.2 288.3,314.8 289.5,315.8 290.5,316.5 291.7,316.5 293.5,316.5 295.1,315.5 296.2,315.7 297.7,315.1 298.7,315.6 300.2,315.5 301.4,315.8 303.2,315.3 304.5,314.4 306.5,313.6 307.6,313.5 308.8,313.3 310.5,313.1 312.2,313.4 313.5,315.0 314.7,316.7 315.9,316.9 317.3,316.5 319.0,316.2 320.7,317.4 320.9,318.3 321.2,319.7 321.0,321.0 320.8,322.3 320.3,323.5 319.5,325.2 319.7,326.3 320.7,327.4 321.6,328.8 322.4,329.6 323.5,330.5 324.6,332.0 325.1,333.0 325.4,334.2 325.7,335.5 326.6,336.8 326.8,337.8 327.1,339.0 327.4,340.8 327.8,342.0 327.6,343.8 327.5,345.1 326.2,346.2 325.8,347.2 325.6,348.5 325.3,349.8 324.7,351.9 324.6,353.7 325.2,355.3 325.8,357.0 326.3,358.9 327.5,360.6 328.0,362.6 329.2,363.9 329.2,365.0 329.4,366.2 329.7,368.0 329.5,369.9 330.4,371.8 330.8,373.5 331.9,374.5 332.6,375.1 333.6,376.4 334.1,377.4 334.0,378.6 334.8,380.5 335.5,381.6 335.1,383.6 335.3,384.8 335.8,386.0 337.3,386.7 338.6,387.3 339.5,386.7 340.7,386.5 342.0,385.8 343.6,386.0 345.4,385.8 346.8,385.5 348.3,385.6 349.7,384.6 351.3,384.0 352.7,382.5 353.9,381.6 355.4,380.5 356.4,378.6 357.3,377.4 358.3,376.2 359.7,374.7 360.3,374.0 360.5,372.6 360.3,370.8 360.7,368.9 361.9,367.8 363.1,367.3 364.1,367.0 364.2,365.5 364.9,364.3 364.4,363.0 364.4,361.5 364.2,360.0 363.8,358.8 364.9,358.0 365.8,356.8 367.1,356.1 367.7,355.3 368.4,354.3 370.2,353.6 371.8,352.5 372.8,350.8 373.6,349.8 373.3,348.1 373.6,346.3 373.7,344.8 373.5,342.8 373.2,341.3 372.3,340.3 372.2,339.3 371.2,338.0 371.4,335.9 370.6,334.2 371.1,333.1 371.2,332.0 372.1,330.8 372.5,329.6 373.5,328.3 374.3,327.8 375.2,326.9 376.1,326.2 376.9,324.9 378.2,323.5 379.4,322.3 380.6,320.9 381.8,320.6 383.0,319.8 383.7,319.3 384.5,318.0 386.0,316.5 387.1,314.6 387.3,312.9 388.0,312.2 388.8,311.2 389.8,309.2 390.5,307.7 391.7,306.0 391.6,305.1 391.8,303.8 390.5,303.8 389.3,304.2 387.9,304.6 386.2,305.2 384.5,305.0 382.6,305.3 381.1,306.0 380.1,305.2 378.6,304.6 378.1,303.9 378.1,302.5 376.9,301.1 376.1,299.7 375.2,299.0 374.2,298.1 372.6,297.6 371.4,296.7 370.5,295.2 370.6,293.7 369.5,292.8 368.9,291.4 368.1,290.5 368.0,289.2 367.7,288.2 367.5,286.5 366.6,285.6 366.1,284.1 365.8,282.9 365.1,281.9 364.6,280.5 363.8,279.1 362.8,277.7 362.4,276.6 361.5,275.1 361.2,273.9 361.2,272.5 360.2,271.5Z"/>
<path d="M498.4,359.7 499.5,358.5 501.0,357.9 502.1,357.7 503.5,357.6 504.8,357.2 506.1,356.7 506.9,356.5 509.0,356.5 510.3,355.6 510.7,354.2 512.4,352.9 512.5,351.1 513.7,351.0 514.6,350.2 515.6,349.5 516.3,348.4 517.2,346.9 518.5,346.3 520.5,345.8 521.6,346.6 522.8,347.2 524.8,347.4 524.7,346.3 525.3,344.9 526.1,343.8 527.0,343.0 528.1,342.5 529.1,342.3 530.1,341.1 531.1,341.5 532.5,342.3 533.9,342.3 535.0,342.6 536.1,342.8 537.2,342.6 536.7,343.6 536.7,344.9 536.1,345.8 535.0,347.2 535.9,348.8 537.1,348.9 538.4,349.7 540.1,350.3 541.0,351.1 542.4,351.7 543.5,352.2 544.6,350.9 544.9,349.8 545.5,348.7 545.4,346.7 545.7,345.2 545.6,343.7 546.1,342.5 546.3,340.5 546.9,340.0 547.3,341.5 548.3,342.3 549.2,344.0 549.0,345.8 550.3,346.8 551.5,347.5 551.6,349.0 552.6,350.9 552.7,352.2 553.2,354.3 554.2,355.2 555.4,355.4 556.7,356.0 558.0,357.4 558.5,358.9 558.9,360.1 560.5,361.3 561.1,362.5 562.4,363.5 563.1,364.7 564.4,365.8 565.2,366.6 565.1,368.3 565.0,370.1 565.2,371.7 565.8,372.6 565.5,374.6 564.8,376.3 563.9,378.1 564.0,379.9 563.3,381.6 561.9,382.9 560.9,384.4 560.9,385.8 560.8,387.5 559.7,389.2 559.5,390.7 558.1,391.4 556.3,391.5 554.9,392.6 553.7,393.5 552.1,393.1 551.2,392.4 549.8,392.9 548.6,393.5 547.2,393.1 545.2,392.4 543.9,392.0 542.7,390.7 542.1,389.2 541.8,387.5 540.1,386.6 540.1,385.7 539.6,384.4 538.8,382.7 538.9,381.3 538.9,380.5 538.6,381.6 537.6,382.7 536.4,383.9 535.9,385.0 535.0,384.8 534.5,382.7 533.3,381.6 532.5,380.7 531.1,379.8 529.9,379.3 528.7,379.0 527.4,378.3 525.6,378.6 523.9,378.7 522.1,379.3 520.5,379.7 519.5,380.0 518.0,380.9 516.6,381.1 515.4,381.7 514.6,383.1 512.7,382.7 511.2,382.9 509.7,383.9 507.8,383.9 506.2,384.3 505.2,385.4 503.8,385.1 502.7,385.4 501.6,384.6 500.5,383.9 500.5,382.3 501.2,381.0 501.3,379.3 501.3,377.7 500.5,376.3 500.3,374.5 499.8,373.3 499.1,372.0 498.7,370.4 497.6,368.5 498.0,367.5 498.1,365.7 497.6,363.8 497.5,362.2 497.9,361.0Z"/>
<path d="M197.5,67.5 198.5,67.1 199.6,66.2 200.6,64.5 201.0,63.0 202.9,63.5 203.9,64.4 205.0,64.5 205.5,63.3 206.1,62.1 206.6,60.9 207.0,60.0 209.0,60.9 211.0,61.5 211.8,60.3 212.5,58.5 213.9,58.0 215.0,57.0 216.7,57.0 217.8,57.7 219.0,58.0 220.3,56.9 222.0,56.2 223.3,53.7 225.0,52.5 226.5,51.6 228.5,51.2 229.8,51.4 231.0,51.0 232.3,50.1 233.9,49.6 235.5,49.0 237.5,47.5 239.2,47.3 240.6,47.9 242.5,48.7 244.0,48.5 245.5,48.1 246.9,48.1 248.0,46.9 250.0,46.2 251.8,46.8 253.6,47.3 255.8,47.6 257.5,48.8 258.6,49.5 259.4,50.7 260.2,52.1 262.0,53.0 262.7,54.3 263.4,55.8 264.2,56.8 265.0,57.5 263.7,59.0 262.2,59.7 260.7,59.8 259.0,60.0 260.5,61.4 261.3,62.9 262.2,64.1 262.5,65.0 263.8,64.8 264.9,64.8 265.9,64.0 267.0,64.0 268.3,66.6 268.7,69.3 269.2,70.9 270.0,72.5 271.8,71.6 273.3,69.4 275.3,68.8 278.0,68.0 277.4,70.4 277.0,72.1 276.0,74.1 275.0,75.0 274.6,76.1 274.0,77.5 273.4,78.8 272.5,80.0 271.4,82.3 270.9,86.1 270.4,88.3 268.8,90.0 266.7,93.4 266.3,96.8 265.5,99.3 266.0,102.5 266.6,105.8 267.2,107.7 268.7,110.3 271.0,112.5 270.5,114.8 269.0,118.0 268.9,120.7 267.5,122.5 267.2,123.7 267.5,125.0 267.2,127.9 267.1,132.1 266.4,135.1 265.0,137.5 262.8,139.8 261.0,141.8 260.7,144.1 260.0,147.5 260.0,148.7 260.2,149.8 261.9,150.9 262.5,152.5 259.8,153.3 257.0,156.3 254.5,158.0 253.8,160.0 251.9,161.5 250.2,162.2 248.8,164.2 247.5,167.5 246.5,169.4 245.6,170.8 244.5,173.3 243.0,176.0 241.8,177.5 241.4,179.3 239.0,181.5 237.0,182.0 235.2,182.5 233.3,183.8 230.9,185.7 230.0,187.5 228.7,187.9 227.8,187.7 226.0,188.5 225.6,187.0 224.8,185.7 223.6,183.9 222.5,183.0 221.5,180.5 221.8,178.6 221.4,177.1 220.0,175.0 219.1,172.1 219.0,169.0 218.4,166.4 217.5,165.0 215.4,161.5 214.9,158.6 213.1,156.9 212.5,155.0 212.8,152.6 211.6,150.4 210.6,147.6 211.0,145.0 211.8,139.8 210.2,136.1 208.7,132.6 207.5,130.0 204.9,128.1 202.2,125.6 200.2,122.8 200.0,120.0 198.3,118.9 196.2,117.4 193.6,114.6 192.5,112.5 190.1,112.3 188.3,111.9 185.1,109.5 183.8,107.5 183.6,104.5 182.5,103.0 182.1,101.6 182.5,100.0 183.7,96.2 186.1,93.6 187.4,89.9 188.8,87.5 188.7,86.1 188.8,83.8 189.4,82.1 191.0,80.0 192.7,76.5 195.6,73.6 196.4,70.3Z"/>
<path d="M150.0,67.5 152.2,66.9 154.0,64.6 155.1,63.2 156.0,61.0 157.6,60.7 159.6,59.6 162.4,58.0 164.0,56.0 167.2,55.0 169.3,55.5 172.1,54.7 174.0,52.5 176.7,52.8 179.5,51.5 181.4,51.7 184.0,51.0 186.3,50.7 189.1,50.9 190.9,51.6 192.5,52.5 193.5,54.7 195.7,56.4 197.1,56.4 199.0,57.5 198.7,59.7 199.5,61.2 200.6,62.7 201.0,64.0 199.4,65.2 197.0,66.9 196.8,68.6 195.5,70.5 194.0,72.7 192.4,73.4 190.6,74.8 190.0,77.0 188.8,77.6 187.4,78.6 186.5,79.2 185.5,80.0 183.7,79.4 182.5,78.9 181.4,77.9 180.0,77.5 178.5,78.5 177.0,79.4 174.4,80.1 172.5,80.0 171.8,81.4 170.7,82.6 169.0,83.0 167.5,84.0 166.4,82.9 165.2,82.4 163.1,82.3 161.0,82.5 159.8,81.7 158.4,80.3 157.2,79.2 156.0,77.5 154.2,76.5 153.3,74.9 152.3,74.5 151.0,74.0 151.1,72.0 150.3,70.5 150.0,69.2Z"/>
<path d="M142.5,75.0 144.1,74.8 145.1,75.0 146.5,74.6 147.5,74.0 148.4,75.1 149.6,76.9 150.1,78.6 150.0,80.0 150.9,82.4 152.4,83.5 152.5,85.7 154.0,87.5 153.2,89.0 152.2,89.8 151.4,92.1 151.0,94.0 152.1,96.0 154.0,97.3 154.7,98.7 155.0,100.0 153.8,100.2 152.8,101.0 151.8,102.1 151.0,104.0 150.0,102.7 148.8,100.5 147.8,99.7 146.0,99.0 146.6,96.9 146.4,94.5 144.6,92.1 144.0,90.0 143.6,87.8 143.6,85.7 142.7,84.0 141.0,82.5 141.5,80.9 141.9,79.4 142.4,77.6Z"/>
<path d="M167.5,85.0 170.2,84.5 173.1,81.4 174.9,80.7 177.5,81.0 180.2,80.4 182.1,80.6 184.5,80.6 186.0,81.0 186.0,82.7 186.8,84.0 188.1,84.8 188.8,86.0 186.9,88.0 184.0,89.3 182.2,90.8 181.0,92.0 179.6,94.4 178.9,96.0 178.6,97.6 178.5,99.0 177.4,99.4 176.4,100.3 175.4,101.9 175.0,103.0 173.7,103.5 172.5,103.5 171.3,104.2 169.5,105.5 168.0,105.0 166.6,104.5 164.3,104.7 162.0,105.5 159.9,105.3 157.4,105.4 156.1,104.9 154.5,104.5 153.4,103.3 152.4,102.3 152.0,101.1 150.5,100.0 150.4,98.1 149.2,96.3 148.5,93.7 148.0,92.0 148.6,90.4 149.4,89.6 150.6,88.6 152.0,88.0 153.5,87.8 155.3,88.6 157.1,89.7 159.0,90.0 160.3,89.1 161.6,89.0 162.7,89.2 164.0,89.0 165.2,87.6 166.1,86.6Z"/>
<path d="M150.5,120.5 152.0,119.0 153.6,118.4 155.1,118.1 156.0,118.5 159.1,120.1 161.6,119.6 163.4,119.4 165.6,119.5 167.1,119.8 168.8,120.7 169.9,122.0 171.0,122.4 170.9,124.4 170.9,125.7 170.6,126.7 170.0,128.0 168.2,129.2 166.4,130.0 164.1,129.4 162.0,130.0 159.3,129.1 157.4,129.7 155.5,128.8 153.4,129.0 152.7,128.3 151.4,127.9 150.6,126.2 149.5,125.0 149.9,123.0 150.0,121.4Z"/>
<path d="M124.4,95.3 126.7,94.8 128.6,95.3 130.2,94.8 132.8,94.4 133.5,96.3 134.2,97.8 135.8,99.6 137.5,101.0 136.8,101.7 136.4,103.0 135.5,103.8 134.7,105.6 133.5,105.2 132.1,104.5 129.6,104.7 128.0,103.8 127.4,101.9 127.7,99.9 126.3,96.6Z"/>
<path d="M137.5,102.8 139.5,101.5 141.3,101.2 143.1,101.2 144.0,101.9 144.9,104.4 146.5,105.5 147.6,106.2 148.8,107.5 148.9,109.4 148.3,111.8 147.1,113.5 146.9,115.0 148.2,117.1 149.1,118.5 149.4,119.9 149.7,121.6 148.7,122.5 147.7,123.1 146.3,122.9 145.0,123.4 143.8,121.6 142.3,121.1 141.7,119.6 140.3,118.8 140.0,117.4 138.7,116.1 138.9,113.4 138.4,111.2 137.7,109.1 138.0,107.5 137.1,105.6Z"/>
<path d="M138.4,133.8 140.3,133.2 142.4,132.8 144.6,132.6 146.9,131.9 147.8,133.1 148.7,135.4 150.5,136.9 151.6,139.4 150.8,142.4 151.6,144.7 150.7,146.3 150.6,148.8 151.3,150.5 152.4,153.3 153.6,154.7 154.4,156.2 153.2,156.9 152.2,158.2 150.6,159.1 148.8,160.0 147.0,158.6 146.1,156.1 143.9,154.6 142.2,154.4 141.2,152.2 141.2,149.0 140.7,147.2 140.3,145.0 139.5,143.8 139.5,142.6 138.3,140.7 137.5,139.4 137.7,137.5 138.0,136.0 138.2,134.8Z"/>
<path d="M118.8,143.1 121.5,143.6 123.8,142.9 126.3,141.7 130.0,141.2 132.2,142.3 133.4,143.8 135.5,146.0 136.6,148.8 136.1,151.2 135.9,153.0 135.8,155.0 134.7,158.1 132.6,157.6 131.0,157.9 128.1,158.7 126.2,160.0 125.2,157.8 122.8,156.0 121.4,154.9 119.7,154.4 119.2,151.7 119.0,148.6 118.2,146.1Z"/>
<path d="M112.0,120.0 114.2,119.7 115.8,118.7 117.3,117.2 120.0,116.0 121.9,116.7 123.0,118.0 124.9,119.7 126.0,122.0 125.4,124.6 125.3,126.6 125.2,128.7 124.0,132.0 122.0,131.6 120.4,131.9 117.7,132.8 116.0,134.0 115.5,131.6 113.6,129.3 112.5,127.9 111.0,127.0 111.1,125.3 111.4,123.4 111.2,121.8Z"/>
<path d="M152.5,140.3 154.6,139.5 156.0,139.5 157.2,139.2 158.8,138.0 161.2,137.5 163.0,138.0 166.0,138.4 168.0,138.8 170.1,139.6 171.4,141.3 174.9,142.2 177.5,141.9 180.6,143.6 181.5,145.7 183.7,147.3 185.3,148.0 186.2,149.8 187.7,151.7 189.8,154.1 191.5,156.0 192.5,157.8 194.4,159.5 195.9,163.3 197.8,165.3 199.3,166.2 200.3,167.3 201.4,168.8 201.7,170.0 201.8,172.2 201.6,173.9 200.8,175.0 200.0,176.0 199.3,177.4 198.5,178.3 197.3,179.4 196.5,181.0 196.0,182.0 195.4,183.1 194.4,184.0 193.5,185.6 191.7,184.7 190.5,183.0 189.6,182.2 189.1,180.9 189.1,179.6 189.0,178.0 187.5,176.9 186.0,175.9 185.3,174.4 184.0,173.5 182.4,172.3 181.3,171.6 180.0,171.5 180.0,169.5 179.0,166.8 179.8,165.1 180.6,163.0 179.4,161.4 178.3,159.7 177.4,157.4 174.4,155.0 172.4,154.3 170.9,153.0 169.7,152.5 168.0,152.5 166.0,153.1 164.5,153.3 161.9,153.9 160.3,153.6 158.6,152.5 156.3,150.7 154.6,149.4 154.0,148.0 154.0,146.4 154.1,143.8 153.3,142.2Z"/>
<path d="M423.0,113.0 421.0,113.3 419.0,113.7 417.3,114.1 416.0,115.5 414.9,117.6 412.7,119.7 410.3,121.4 407.0,122.5 405.7,124.4 404.3,126.8 402.7,129.8 399.0,132.0 397.6,133.6 396.7,135.8 395.3,138.8 394.0,141.0 393.6,142.3 393.2,143.4 393.3,145.3 393.0,147.0 394.9,148.1 396.5,147.9 397.6,147.8 399.0,147.5 400.0,145.6 401.8,144.3 402.0,142.4 403.0,141.0 403.6,138.8 404.4,136.4 405.6,135.4 407.5,134.0 409.4,132.4 410.0,130.8 411.6,128.9 413.0,128.0 414.2,127.2 415.5,125.6 417.1,123.7 420.0,122.5 421.1,121.0 422.1,119.9 423.6,118.7 425.0,117.0 423.8,115.6 423.6,114.1Z"/>
<path d="M173.0,173.0 174.8,173.2 176.2,172.8 177.7,171.9 180.0,171.5 181.3,172.1 182.1,173.0 183.3,174.4 184.0,176.0 183.2,177.6 182.8,178.8 182.3,180.1 181.0,182.0 179.6,181.5 178.4,181.5 176.4,181.8 175.0,182.5 174.7,181.0 173.6,179.5 172.0,178.0 172.4,176.7 172.9,175.6 172.9,174.4Z"/>
<path d="M322.0,95.0 323.3,93.8 324.8,92.6 326.4,91.5 328.0,90.0 329.4,90.3 331.5,91.2 333.6,91.1 336.0,92.0 338.4,93.7 340.7,93.7 341.9,95.2 344.0,96.0 344.3,97.8 344.7,100.7 345.6,102.4 346.0,104.0 344.8,104.7 343.6,106.1 342.0,107.1 340.0,108.0 338.5,109.6 335.9,110.3 334.4,112.4 334.0,114.0 332.3,112.3 331.2,109.4 330.2,107.9 329.0,106.0 327.7,105.2 327.3,104.1 325.4,102.9 324.0,102.0 323.2,99.6 322.7,97.8 322.4,96.3Z"/>
<path d="M461.0,98.0 463.2,96.9 464.5,95.3 465.6,93.2 468.0,91.0 470.3,90.2 472.2,90.5 475.3,90.8 478.0,92.0 479.0,93.6 479.9,94.6 481.0,95.8 482.0,98.0 479.9,98.9 478.7,100.2 476.8,102.8 476.0,105.0 473.5,103.6 470.0,103.5 468.0,103.4 466.0,104.0 464.7,102.7 463.3,101.0 461.9,99.9Z"/>
<path d="M536.0,124.0 538.3,123.5 539.8,122.3 541.3,120.5 544.0,119.0 546.8,118.3 549.2,118.8 552.8,119.3 556.0,121.0 557.0,122.6 557.9,123.6 559.0,124.8 560.0,127.0 557.4,126.6 555.5,127.1 552.1,128.3 550.0,130.0 547.5,128.6 544.0,128.5 542.0,128.4 540.0,129.0 538.9,127.9 537.8,126.5 536.7,125.6Z"/>
<path d="M606.0,149.0 607.5,148.6 609.0,148.0 610.8,149.2 612.0,150.0 610.5,150.7 609.0,151.5 607.7,150.4 606.9,149.5Z"/>
<path d="M10.0,180.0 12.0,179.6 14.0,179.0 14.6,180.8 15.0,182.0 13.0,182.4 11.0,183.0 10.6,181.7Z"/>
<path d="M294.8,225.1 296.7,225.0 298.5,224.6 300.4,223.7 301.9,223.5 303.5,223.2 304.6,223.4 305.8,222.8 306.7,222.2 307.2,221.2 307.7,220.2 307.6,218.9 307.4,218.0 306.1,217.2 304.8,215.8 304.2,214.7 304.2,213.5 303.2,211.9 301.9,210.8 301.6,209.5 300.8,208.4 300.6,206.7 301.1,205.4 301.1,203.4 300.1,202.9 298.5,203.1 298.5,201.7 299.1,200.2 297.3,200.0 296.0,200.2 295.6,201.7 295.3,202.7 294.6,203.7 294.8,205.2 295.0,206.2 295.1,207.5 295.9,208.4 296.3,209.9 296.0,212.0 297.0,212.3 298.5,212.0 298.9,213.6 299.4,214.9 299.1,216.3 298.2,216.6 296.8,216.3 297.1,217.2 297.2,218.6 296.7,219.5 295.6,220.5 296.9,220.6 298.5,221.4 299.4,222.2 298.0,222.5 296.8,222.7 295.9,224.0Z"/>
<path d="M287.5,220.8 289.3,221.3 290.9,221.1 292.4,220.3 293.8,219.4 294.5,218.0 294.3,216.3 294.1,214.7 294.8,212.9 294.0,212.1 293.4,210.8 292.1,211.0 290.5,210.8 290.0,212.9 289.0,213.4 287.5,213.7 287.6,214.9 287.8,216.3 288.3,217.2 288.3,218.6 287.0,220.0Z"/>
<path d="M263.6,175.5 264.8,174.6 265.6,174.2 266.5,173.2 267.0,172.3 268.4,171.9 270.8,171.7 272.6,172.0 273.9,172.7 275.4,173.0 276.5,172.6 277.6,173.2 279.0,173.0 279.5,174.6 280.7,175.6 281.2,176.6 279.9,178.3 279.0,179.8 277.0,180.8 275.7,182.5 274.3,183.1 273.0,183.3 271.5,182.1 270.2,181.5 268.7,181.8 267.5,181.3 265.8,181.4 267.0,179.5 267.0,177.9 265.6,177.1 264.9,176.3Z"/>
<path d="M203.2,229.2 204.8,229.5 205.9,229.2 207.1,229.4 208.3,230.1 209.5,230.8 211.6,230.9 213.8,231.2 214.5,229.2 213.8,228.4 213.3,227.1 211.4,226.0 210.1,224.8 210.2,222.7 209.6,221.1 207.8,222.2 207.2,223.1 206.2,223.9 205.8,225.5 204.5,226.6 203.5,227.6Z"/>
<path d="M158.9,281.8 160.4,281.2 161.3,280.5 162.2,279.9 163.7,280.1 165.6,279.6 167.5,280.2 169.0,280.7 170.8,281.2 172.4,282.3 173.8,282.8 175.0,283.1 175.8,284.0 177.2,284.9 175.9,285.4 174.9,285.4 173.4,285.9 171.5,285.4 170.7,284.0 169.2,282.7 168.1,282.3 166.1,281.6 164.7,281.4 163.7,281.6 162.2,281.6 160.5,282.0Z"/>
<path d="M176.8,288.1 177.9,286.8 179.2,285.4 180.4,285.4 181.8,285.4 183.0,285.7 184.3,285.8 185.4,286.8 187.0,287.8 185.2,288.3 184.2,288.6 182.6,288.7 181.4,289.4 180.1,288.5 178.5,288.7Z"/>
<path d="M170.2,288.3 171.3,288.1 172.4,287.9 173.8,288.8 172.4,289.1 171.5,289.2Z"/>
<path d="M189.1,287.9 190.3,288.0 191.6,288.1 191.5,288.8 190.1,288.8 189.1,288.8Z"/>
<path d="M388.4,344.6 389.0,346.6 388.6,348.0 389.4,348.9 390.0,349.8 390.1,350.7 389.9,352.7 388.8,354.3 388.4,356.2 388.1,357.4 387.6,358.8 387.7,360.1 387.7,361.1 386.5,362.6 385.9,364.3 385.8,366.2 384.5,368.0 383.1,368.4 382.0,368.9 380.6,368.3 379.4,368.0 378.9,366.4 378.7,365.2 378.6,363.3 378.7,362.2 379.5,361.0 379.9,360.0 379.9,358.8 379.5,357.6 379.6,356.5 379.4,354.3 379.7,353.3 380.3,352.0 381.9,351.2 383.3,351.1 384.1,349.9 385.9,349.0 386.4,347.8 387.6,346.3Z"/>
<path d="M440.7,307.4 441.4,308.4 442.8,309.5 443.0,311.0 443.8,312.1 442.4,313.6 441.1,313.8 440.6,312.7 440.4,311.2 440.5,309.8 440.4,308.6Z"/>
<path d="M511.4,279.6 512.2,280.4 511.7,281.5 511.4,283.2 510.4,284.3 510.2,285.6 509.2,284.1 509.2,282.3 509.6,281.2 510.5,280.0Z"/>
<path d="M489.6,290.7 490.4,290.1 491.3,289.1 493.3,289.2 493.5,290.1 492.3,291.1 491.8,292.3 490.1,292.1Z"/>
<path d="M539.9,248.2 541.9,247.5 543.7,247.6 545.3,247.1 546.7,246.0 547.5,244.9 549.2,244.0 548.7,241.9 546.7,242.3 545.0,241.7 544.1,240.7 542.9,239.0 543.1,240.3 543.0,241.6 542.4,243.6 540.4,244.3 539.9,246.4Z"/>
<path d="M542.1,248.4 543.0,250.3 543.3,252.2 542.5,253.3 541.6,255.3 541.8,256.7 541.4,258.5 540.9,259.7 540.7,261.1 539.5,262.3 537.7,262.9 536.3,263.0 535.4,263.0 534.8,263.5 533.4,265.0 533.1,263.3 532.3,262.5 531.1,263.0 529.5,262.8 528.3,262.6 526.7,263.0 526.7,261.9 528.0,261.4 528.8,260.4 530.5,260.5 531.6,260.4 533.7,260.2 533.8,258.7 534.6,257.4 535.8,258.0 536.7,257.6 537.8,256.4 538.9,255.1 539.5,253.8 539.9,252.1 539.9,250.5 540.7,248.9Z"/>
<path d="M526.5,263.2 527.6,264.5 527.9,266.1 527.4,267.1 526.4,268.6 525.5,268.3 525.2,267.0 525.5,265.9 524.8,264.4 526.0,263.3Z"/>
<path d="M528.8,263.5 530.0,263.5 531.3,263.2 531.6,264.3 530.2,264.9 529.0,265.8 528.6,264.6Z"/>
<path d="M544.3,215.5 544.5,217.1 544.9,218.2 545.3,219.2 544.9,221.0 545.1,222.4 545.3,223.4 545.9,225.4 545.8,227.4 546.4,228.3 547.2,230.0 547.1,231.4 546.6,232.3 546.1,233.2 545.0,233.9 545.1,235.7 545.5,236.8 544.1,235.9 543.1,237.6 543.1,236.6 543.5,235.0 543.5,233.1 543.0,231.8 542.9,230.9 543.3,230.0 543.3,228.7 543.7,227.0 543.3,225.9 542.9,224.7 542.5,223.6 542.8,222.2 542.6,220.4 542.8,219.2 543.0,217.5 543.6,216.3Z"/>
<path d="M509.7,291.9 511.4,292.2 512.6,292.1 512.2,294.0 512.7,295.5 512.0,296.2 511.4,297.3 511.7,299.4 512.9,300.2 513.9,300.3 515.0,301.1 515.6,302.2 514.4,301.7 513.6,300.7 512.2,300.3 510.5,300.4 509.7,299.0 509.2,298.0 508.8,296.4 509.1,294.8 509.3,293.7Z"/>
<path d="M512.2,312.1 513.4,310.9 514.8,309.5 516.2,308.4 517.8,307.4 518.6,308.5 519.6,309.5 519.5,311.0 519.6,312.9 518.2,314.3 516.5,313.4 515.6,311.5 513.9,311.2Z"/>
<path d="M512.2,303.8 513.9,304.3 515.5,304.1 516.5,304.6 517.3,303.6 518.2,303.1 518.4,305.0 517.8,306.0 516.4,306.4 515.6,306.9 513.9,307.7 513.1,306.0 512.9,304.6Z"/>
<path d="M504.1,309.6 505.4,308.3 506.7,307.2 508.0,305.5 507.6,304.6 506.6,305.7 506.3,306.9 505.7,307.8 504.6,308.6Z"/>
<path d="M490.1,321.4 490.9,320.6 492.3,320.7 493.5,321.1 494.0,319.2 495.2,319.0 496.9,318.4 497.5,317.4 498.6,316.3 499.9,315.8 501.2,315.0 502.4,313.2 503.2,312.2 504.9,313.1 505.9,314.7 507.1,315.1 506.6,316.0 505.4,316.7 505.0,317.6 505.1,318.9 505.6,320.8 506.8,322.0 505.1,322.6 504.7,324.3 504.6,325.4 502.9,326.6 503.2,328.4 502.5,330.0 501.3,330.0 499.6,330.8 498.2,329.9 496.9,329.6 495.6,329.4 494.4,329.5 493.3,328.7 492.1,328.6 491.8,326.6 491.1,325.9 490.1,324.9 490.5,323.3Z"/>
<path d="M466.8,314.4 468.8,315.2 470.5,315.1 471.0,316.5 472.6,317.5 473.6,318.5 475.3,319.4 476.0,320.2 477.3,320.9 478.3,321.9 479.9,322.8 480.4,324.1 481.2,324.9 481.5,326.1 482.4,327.1 484.3,328.0 485.0,329.1 484.5,330.4 484.1,331.5 484.0,332.6 484.6,333.9 483.7,333.6 482.4,333.6 480.7,332.8 479.9,331.8 478.5,330.7 477.3,329.1 476.1,327.5 475.3,325.7 475.2,324.6 474.4,323.6 473.1,322.6 472.1,321.8 471.4,320.1 470.2,318.4 468.8,317.5 468.3,316.3 468.1,315.4Z"/>
<path d="M483.6,335.6 484.6,335.1 485.8,334.2 487.5,334.4 489.2,335.3 491.1,335.2 493.0,335.1 494.7,335.5 496.4,335.9 497.8,336.3 499.3,337.3 499.3,338.7 498.1,338.5 497.0,338.7 495.2,338.2 493.3,337.4 491.8,337.7 490.3,337.8 488.4,337.3 486.9,336.8 485.7,336.5 484.9,336.0Z"/>
<path d="M500.3,338.2 501.9,338.2 503.7,338.2 505.3,338.2 507.1,338.4 508.7,338.6 510.5,338.4 512.0,338.5 513.9,338.2 513.9,339.0 512.0,339.4 510.5,339.7 508.8,339.2 507.1,339.0 506.0,339.6 505.0,339.2 503.7,339.4 501.8,339.0 500.3,339.0Z"/>
<path d="M514.8,341.6 516.1,340.8 517.3,339.7 519.0,338.6 520.7,338.4 519.9,339.4 518.7,340.3 517.6,340.6 516.5,341.5Z"/>
<path d="M508.0,333.4 507.7,332.0 508.3,330.0 506.8,328.8 506.9,327.8 507.2,326.3 507.7,325.2 508.5,324.3 509.6,323.3 510.2,321.8 511.8,321.7 512.7,321.8 513.9,322.5 515.5,322.5 516.5,322.3 517.3,321.3 516.5,323.1 514.4,322.4 512.9,322.6 511.4,323.1 510.7,324.5 509.7,325.4 511.4,325.7 512.7,325.7 514.4,325.4 513.8,326.4 512.2,327.1 511.4,327.4 512.2,328.9 513.1,330.0 513.9,331.7 512.7,332.9 511.4,331.7 511.0,330.3 510.5,328.6 509.7,329.1 509.8,330.2 509.9,331.7 509.5,333.4Z"/>
<path d="M527.4,323.1 528.6,322.5 530.8,322.6 532.8,323.2 533.2,325.2 533.9,326.0 534.2,327.3 535.1,327.1 536.3,326.5 537.2,325.2 538.4,324.6 539.8,325.4 541.5,325.3 542.8,325.2 544.4,326.1 546.0,326.4 548.0,327.2 548.9,328.1 550.3,328.3 551.7,329.3 552.3,330.2 552.9,331.1 554.3,331.9 555.4,331.9 556.2,333.4 556.3,335.4 556.8,336.8 558.1,338.6 559.5,339.4 560.6,339.7 558.8,339.1 557.4,339.4 556.3,339.2 555.4,338.8 554.2,337.9 552.9,336.2 551.3,335.7 549.5,334.9 548.4,335.9 547.8,337.1 545.7,336.6 544.4,337.1 543.4,336.7 542.5,335.7 541.0,335.4 539.3,335.9 539.8,334.5 540.1,333.3 539.5,332.5 538.3,331.9 537.6,330.2 535.9,329.5 534.2,329.2 532.8,329.0 530.8,328.5 529.9,327.2 529.1,326.5 527.8,325.3 527.4,324.3Z"/>
<path d="M598.4,384.1 599.0,384.8 600.3,385.2 601.1,386.4 602.3,387.3 603.1,389.2 604.0,390.9 605.8,390.7 607.4,390.9 608.1,391.7 607.6,393.1 607.1,393.8 606.0,395.0 605.1,396.0 604.8,397.2 603.4,398.3 602.8,399.7 601.8,399.0 601.8,397.3 602.6,396.1 601.2,395.1 600.2,394.6 600.6,393.1 601.8,391.7 601.6,389.6 600.9,387.9 600.1,387.1 598.9,385.4Z"/>
<path d="M598.4,397.2 599.4,398.5 600.3,399.0 601.1,400.0 600.5,401.0 599.8,402.0 599.4,403.1 598.5,404.1 597.3,405.6 596.0,406.5 595.2,408.4 595.1,410.1 593.1,410.6 592.1,411.6 590.9,411.4 589.5,410.6 587.8,409.6 588.7,408.7 589.6,407.3 590.6,406.3 590.9,405.3 592.3,403.9 593.4,403.7 594.6,402.5 595.8,401.4 596.8,399.5 597.7,398.4Z"/>
<path d="M550.7,397.7 551.9,398.2 553.7,398.4 555.4,398.7 556.8,398.1 556.9,399.5 556.6,401.1 555.8,402.5 555.4,403.7 554.2,403.7 552.9,404.1 552.5,402.9 551.7,401.8 550.9,400.2 550.7,398.7Z"/>
<path d="M85.0,219.5 86.3,219.7 87.3,220.4 88.3,220.5 89.8,220.9 90.3,222.2 90.9,223.2 92.0,224.4 93.2,225.3 91.5,225.3 90.0,224.3 89.4,223.4 88.1,222.7 87.2,221.1 86.4,220.3Z"/>
<path d="M318.5,251.8 319.8,251.7 321.0,251.3 320.7,250.5 320.5,249.1 321.0,247.3 320.2,246.9 318.6,247.8 318.2,249.6 318.3,250.8Z"/>
<path d="M319.3,246.2 320.7,246.2 320.8,244.5 320.7,242.7 319.3,243.9 319.3,245.3Z"/>
<path d="M325.8,254.0 327.3,253.9 328.3,253.9 329.6,253.7 330.9,253.5 330.7,254.9 330.4,256.7 329.5,256.3 328.3,255.4 327.4,255.0 326.1,255.0Z"/>
<path d="M344.7,259.3 346.8,259.6 348.2,259.6 349.1,259.7 349.1,260.3 348.2,260.2 346.9,260.0 345.7,259.7 344.7,259.9Z"/>
<path d="M359.7,260.3 361.4,259.8 363.2,259.1 362.1,260.7 360.0,260.9Z"/>
<path d="M37.9,285.2 39.6,285.6 39.2,287.0 37.9,286.5Z"/>
<path d="M34.1,282.3 35.0,282.7 34.5,283.0Z"/>
<path d="M40.4,199.7 42.1,199.0 43.8,198.1 44.1,199.5 44.2,200.4 42.7,201.1 41.3,201.9 40.9,201.0Z"/>
<path d="M198.1,301.7 199.6,301.5 199.6,302.7 198.1,302.7Z"/>
<path d="M395.4,302.4 397.3,302.4 397.0,302.9 395.6,302.7Z"/>
</g>
<g fill="#efefef">
<path d="M384.5,236.8 387.9,234.4 391.3,233.6 394.7,234.4 394.7,237.3 391.7,238.0 390.5,239.2 391.3,241.6 394.2,243.9 394.4,246.9 396.1,248.5 395.6,251.1 396.1,255.0 393.0,256.5 390.1,255.7 387.9,253.3 388.4,249.6 387.1,245.5 385.4,242.7 384.2,239.7Z"/>
</g>
<g fill="none" stroke="#b9b9bb" stroke-width="0.55" stroke-linejoin="round" stroke-linecap="round">
<path d="M63.4,155.1 63.4,190.5 69.4,195.2 73.6,193.2 76.2,196.5 79.1,202.2 82.1,204.7 81.8,207.4"/>
<path d="M93.7,224.0 142.5,226.1 142.9,225.5 148.5,228.4 152.7,228.6 153.8,228.0 159.6,231.0 160.1,231.6 161.7,232.6 163.3,233.9 163.2,238.7 162.0,240.6 163.0,241.7 169.0,239.2 169.0,237.8 172.7,237.3 173.8,236.0 176.0,234.5 181.9,234.5 183.2,233.7 184.2,232.2 186.3,229.8 187.8,230.0 188.6,230.6 188.4,233.2 189.0,234.1 189.6,234.9"/>
<path d="M104.1,261.4 108.2,261.0 114.5,263.8 119.3,263.8 119.3,262.8 122.2,262.8 124.9,265.2 125.6,267.2 127.8,268.4 129.0,266.8 130.8,266.8 132.7,269.7 134.1,271.3 134.8,273.4 138.0,274.3"/>
<path d="M146.5,295.0 146.5,293.8 147.4,292.2 149.6,292.2 149.6,291.7 147.9,290.3 148.6,289.2 151.6,289.2 153.2,287.9"/>
<path d="M151.6,289.2 151.6,292.6 152.8,292.7"/>
<path d="M150.1,296.3 151.3,295.2 151.6,292.6"/>
<path d="M151.3,295.2 154.0,296.8 154.5,297.7"/>
<path d="M161.8,294.2 158.8,295.0 155.9,297.1 154.9,297.7"/>
<path d="M161.0,301.3 157.6,301.0"/>
<path d="M162.9,303.6 162.3,306.2"/>
<path d="M182.1,299.8 180.1,301.0 179.2,304.3 180.2,305.6 180.9,307.9 184.3,308.1 185.3,309.6 188.6,309.4 188.1,312.3 188.9,314.2 189.1,316.6 189.6,318.0"/>
<path d="M189.6,318.0 192.0,318.6 194.5,317.4 194.2,315.7 195.5,316.3 194.2,313.0 196.6,313.2 198.1,312.8 200.1,311.1"/>
<path d="M200.1,311.1 199.0,309.9 199.5,308.6 200.8,307.9 201.3,305.5"/>
<path d="M200.1,311.1 201.3,311.3 201.5,312.3 202.2,313.4 201.5,316.1 203.0,317.8 204.7,317.4 206.4,316.6 207.3,316.8"/>
<path d="M206.1,309.8 205.9,311.0 204.7,313.2 205.9,314.4 207.3,316.8"/>
<path d="M211.6,310.1 210.9,311.8 211.6,314.0 210.5,316.1"/>
<path d="M207.3,316.8 208.3,316.6 210.5,316.1 213.3,316.3 214.1,315.6 215.5,313.2 215.6,312.5"/>
<path d="M189.6,318.0 189.2,317.1 184.7,317.1 184.7,318.1 185.7,318.3 185.3,320.9 184.3,320.3 184.5,327.2"/>
<path d="M184.5,327.2 183.1,326.5 184.3,324.6 179.4,324.1 178.0,322.2 175.3,320.2"/>
<path d="M175.3,320.2 173.6,319.3 171.5,318.8 169.3,317.6"/>
<path d="M175.3,320.2 175.5,321.7 173.1,324.4 170.7,325.1 170.0,326.5 169.0,328.5 166.8,327.5 166.8,325.8"/>
<path d="M184.5,327.2 179.4,328.7 178.9,330.2 177.5,332.8 179.4,336.1 180.6,337.1 183.3,336.3 183.3,338.8 185.0,338.8"/>
<path d="M185.0,338.8 186.5,341.5 186.0,343.6 185.3,345.8 185.7,348.0 185.2,350.3 183.8,351.7"/>
<path d="M185.0,338.8 187.2,338.8 190.1,336.9 192.3,336.8 192.1,340.1 193.8,341.5 196.6,342.3 198.3,343.2 200.5,343.7 201.2,348.1 204.2,348.1 204.1,349.9 205.6,351.5 205.1,353.0 204.4,354.4 204.4,355.1"/>
<path d="M185.2,350.3 186.4,353.9 186.9,356.6 187.9,359.9 189.1,359.9"/>
<path d="M189.1,359.9 190.6,358.0 194.0,359.9 196.7,358.8"/>
<path d="M196.7,358.8 198.3,355.3 202.9,353.5 204.4,355.1"/>
<path d="M204.4,355.1 204.9,358.6 208.5,359.0 209.2,362.1 211.0,362.1 210.5,365.1"/>
<path d="M196.7,358.8 201.3,362.1 205.1,364.4 203.7,368.2 207.8,368.4 210.5,365.1"/>
<path d="M210.5,365.1 211.9,366.8 211.9,368.2 208.5,370.5 205.4,374.0"/>
<path d="M205.4,374.0 208.1,375.2 211.6,377.4 212.7,379.0 212.4,381.0"/>
<path d="M205.4,374.0 204.4,378.6 204.1,381.6"/>
<path d="M189.1,359.9 187.0,363.0 186.9,367.8 184.7,371.6 183.8,376.6 184.5,380.6 183.5,385.8 183.3,391.1 183.3,396.7 183.3,403.6 183.8,408.4 182.1,414.7 181.2,419.9 182.6,422.6 186.4,424.0 189.1,425.1"/>
<path d="M188.7,426.0 188.7,432.3"/>
<path d="M181.4,285.8 181.2,288.8"/>
<path d="M289.5,245.3 290.5,245.1 293.3,245.3 293.9,246.0 292.8,247.3 292.8,249.1 292.6,250.2 291.7,250.5 292.6,251.8 292.1,253.1 292.6,253.5 291.7,255.0 291.9,255.7"/>
<path d="M301.4,241.8 303.3,243.0 305.7,243.2 307.4,243.9 309.8,244.1"/>
<path d="M308.8,222.4 309.9,224.1 311.7,225.4 312.8,225.9 314.4,226.7 315.4,226.7 318.5,228.0 317.4,231.6"/>
<path d="M317.4,231.6 316.2,232.4 314.9,234.8 316.4,235.8 316.4,238.0 315.9,239.2 317.6,240.2 317.3,240.9"/>
<path d="M317.4,231.6 319.1,231.4 320.8,231.9 322.4,233.4 321.7,234.8 319.8,235.6 318.8,234.6 316.4,235.8"/>
<path d="M322.4,233.4 325.3,233.1 327.8,234.4 327.8,236.6"/>
<path d="M320.8,231.9 322.4,231.9 326.6,231.9 326.3,230.1 328.0,228.8 330.0,228.0 333.4,228.8 333.6,230.6 332.6,231.9 331.9,233.4 329.4,234.4 327.8,234.4"/>
<path d="M316.8,216.3 316.4,219.2 314.7,220.5 314.9,223.3 315.4,225.9 315.4,226.7"/>
<path d="M310.3,221.6 311.8,221.6 313.0,221.4 314.5,222.7 314.9,223.3"/>
<path d="M319.3,211.7 321.2,212.0"/>
<path d="M328.8,214.6 328.7,217.8 329.5,219.7 330.0,222.7 329.7,223.0"/>
<path d="M329.7,223.0 326.6,224.3 325.3,224.6 325.8,226.2 328.0,228.8"/>
<path d="M329.7,223.0 332.3,223.8 333.3,224.6 335.1,225.4 336.5,226.7"/>
<path d="M336.5,226.7 335.0,228.3 333.4,228.8"/>
<path d="M336.5,226.7 338.6,227.2 342.0,227.5 343.0,227.8"/>
<path d="M343.0,227.8 345.4,224.1 344.7,221.1 344.5,218.3 345.2,214.6 344.5,214.3 343.3,213.2 338.2,213.2"/>
<path d="M333.6,230.6 336.3,231.1 338.6,230.1 342.1,229.6 343.0,227.8"/>
<path d="M331.9,233.4 332.6,234.4 334.5,235.8 336.5,235.8 339.1,235.3 340.6,234.6 342.1,231.4 343.5,230.6 342.1,229.6"/>
<path d="M343.5,230.6 346.9,231.4 349.8,229.8 352.3,233.4 352.5,236.8 355.1,237.5"/>
<path d="M339.1,235.3 341.1,237.5 340.9,238.5 343.2,239.0 343.2,240.9 347.1,241.1 350.5,240.2 353.2,241.1"/>
<path d="M349.8,229.8 351.8,229.3 354.2,230.6 355.6,234.6 352.5,236.8"/>
<path d="M343.2,240.9 342.6,244.4 343.7,246.7 346.2,246.2 349.3,245.7 352.2,245.1"/>
<path d="M336.5,235.8 336.9,238.3 337.5,239.9 337.2,241.6 339.1,243.2 339.6,245.3 342.6,244.4"/>
<path d="M327.8,236.8 330.6,236.8 332.6,234.4"/>
<path d="M331.4,237.5 331.7,239.9 334.5,242.7 336.0,243.9"/>
<path d="M331.4,237.5 333.4,237.5 336.9,238.3"/>
<path d="M338.6,250.2 339.9,247.6 343.5,246.7 346.2,246.2"/>
<path d="M349.3,245.7 349.5,247.6 348.8,247.8"/>
<path d="M337.5,245.3 339.4,244.6 339.6,245.3 339.9,247.6"/>
<path d="M323.6,198.9 324.9,193.8 325.4,190.3 325.3,184.8 328.2,180.2 329.2,173.7 332.3,168.2 335.5,164.3 339.1,162.3"/>
<path d="M345.4,174.5 344.9,170.1 344.5,166.7 339.9,162.3 339.1,162.3"/>
<path d="M339.9,162.3 343.7,163.5 348.3,162.7 348.8,159.0 352.2,158.1 353.9,161.1 353.7,162.3 356.9,159.8"/>
<path d="M353.7,162.3 353.0,165.5 355.4,168.2 353.9,170.5 355.6,174.8 355.1,179.0 356.4,181.8 358.1,185.2 354.7,191.0 351.8,193.8"/>
<path d="M352.2,197.5 351.2,202.1 351.5,203.7"/>
<path d="M345.9,202.5 348.8,202.8 351.5,203.7 352.5,208.1 349.8,209.3 347.1,207.5 343.3,207.2 340.4,208.1"/>
<path d="M349.8,209.3 348.3,213.5 344.5,214.3"/>
<path d="M340.6,210.5 343.3,211.4 343.3,213.2"/>
<path d="M352.5,208.1 357.1,209.6 357.3,212.6 360.2,215.8 358.0,216.6 358.6,219.7"/>
<path d="M344.7,221.1 347.9,220.3 352.2,221.4 356.4,221.9 358.6,219.7"/>
<path d="M358.6,219.7 362.4,219.4 364.9,224.3 369.2,225.7 372.8,226.5 372.3,230.6 369.5,232.9"/>
<path d="M372.6,241.8 376.9,242.3 380.8,243.7 383.7,245.5 387.3,245.5"/>
<path d="M375.2,246.2 378.6,247.1 381.1,246.9 383.7,245.5"/>
<path d="M378.6,247.1 378.9,249.3 380.8,250.2 380.1,253.1 380.8,255.7"/>
<path d="M380.8,250.2 383.7,252.0 386.2,250.9 387.8,253.1"/>
<path d="M378.6,247.1 381.1,246.9 383.7,250.7 380.8,250.2"/>
<path d="M365.8,258.2 367.0,256.5 369.2,256.5 372.6,256.5 376.7,255.9 380.8,255.7"/>
<path d="M376.7,255.9 374.7,260.7 370.6,263.6 367.2,265.8 365.3,265.0"/>
<path d="M365.3,265.0 365.1,263.8 366.8,262.0 365.8,261.1"/>
<path d="M370.6,263.6 371.2,266.2 367.5,267.4 369.2,269.4 368.4,270.4 366.0,272.0 364.1,271.6"/>
<path d="M364.9,265.4 364.8,268.0 364.1,271.4"/>
<path d="M371.2,266.2 373.3,266.6 376.2,268.2 380.6,272.0 383.7,272.2 385.4,270.4 386.2,270.4"/>
<path d="M383.7,272.2 385.7,273.3 386.9,273.3"/>
<path d="M380.8,255.7 381.8,258.2 383.2,259.9 382.0,262.4 382.8,264.4 385.9,266.8 385.7,268.4 387.1,270.4"/>
<path d="M362.7,267.8 363.9,271.4"/>
<path d="M377.4,295.7 378.2,293.9 380.4,293.9 384.5,294.6 386.6,292.5 393.0,291.0 394.9,295.2"/>
<path d="M393.0,291.0 398.1,289.2 399.3,285.6 398.5,284.3 394.1,283.9 392.4,281.5"/>
<path d="M399.3,285.6 399.9,281.7 400.4,280.0"/>
<path d="M396.3,255.5 398.1,254.4 401.9,253.3 405.5,255.0 408.7,257.0 408.5,259.7 407.7,262.4 408.2,267.4 409.7,268.4 408.2,270.8 410.9,271.6 409.7,275.8 412.1,277.0 409.4,279.6"/>
<path d="M408.2,270.8 413.5,271.6 417.4,270.6 418.1,268.0 422.5,266.6 423.7,263.0 425.6,262.2 426.4,257.6 431.4,256.1"/>
<path d="M408.7,257.0 411.4,259.7 414.3,257.6 417.7,255.2 420.3,256.1 422.8,255.0 424.0,254.8 426.2,256.7 426.4,253.5 429.3,255.2 432.0,255.7"/>
<path d="M417.7,255.2 414.2,252.0 410.9,249.6 408.4,246.9 406.7,244.6 404.3,243.2 399.9,246.7 399.9,238.0 404.3,236.6 408.5,239.7 415.0,241.1 417.0,242.7 416.9,245.1 420.3,247.3 422.0,246.4 425.2,244.4 425.4,243.7"/>
<path d="M399.9,246.7 397.6,245.1 393.9,245.5"/>
<path d="M420.3,247.3 421.1,249.1 419.4,251.1 420.6,253.3 420.3,256.1"/>
<path d="M421.1,249.1 424.5,249.1 424.7,247.3 428.8,247.8 430.2,250.7"/>
<path d="M424.5,249.1 422.8,250.5 425.4,250.9 430.2,250.7"/>
<path d="M387.1,234.4 384.5,229.8 383.7,229.3 385.4,224.3 387.4,223.8 391.0,220.5 395.4,221.4 398.1,223.8 403.8,222.2 409.4,223.3 408.4,219.2 408.4,214.6 415.5,213.5 420.6,211.4 425.4,214.0 429.6,214.3 435.3,213.2 434.8,214.6 440.7,223.3 446.5,222.7 449.6,226.5 453.1,227.5"/>
<path d="M453.1,227.5 450.6,229.6 450.1,232.9 445.8,232.6 444.6,236.8 442.1,242.3 441.1,244.8"/>
<path d="M441.1,244.8 438.2,243.0 433.4,243.2 429.6,244.1 425.4,243.7"/>
<path d="M441.1,244.8 437.3,247.3 433.9,248.7 430.2,250.7 432.0,255.7"/>
<path d="M454.0,227.5 457.7,225.4 462.0,223.3 466.3,225.4 471.4,223.8 471.9,220.0 478.5,221.9 479.9,224.6 486.7,226.2 493.5,227.0 499.5,224.9 503.2,225.9 502.0,228.5 501.2,230.8 508.5,233.9 504.4,234.6 497.9,238.5 495.0,238.0 494.2,241.6 486.7,245.5 482.4,245.7 475.6,243.7 468.6,243.4 463.7,238.3 459.3,237.5 458.6,231.9 454.0,227.5"/>
<path d="M503.2,225.9 508.3,219.7 510.0,216.3 515.0,215.8 519.0,217.8 521.6,224.9 526.0,228.8 526.7,232.0 531.8,231.2 529.6,238.8 527.1,241.1 526.9,242.7 526.2,244.9"/>
<path d="M526.2,244.9 524.8,244.5 522.4,245.1 520.6,245.5 516.1,249.8"/>
<path d="M520.2,254.4 522.9,252.7"/>
<path d="M488.4,286.5 486.2,283.9 483.8,283.2 478.5,284.8 476.8,287.0 474.9,286.5 473.1,285.6 472.9,281.9 470.7,280.4 472.6,275.1 470.3,273.9"/>
<path d="M470.3,273.9 468.3,271.6 465.6,271.8 461.1,274.7 460.5,274.7 455.9,275.6 454.5,274.5 450.9,274.3 447.4,271.8 442.6,270.0 438.5,267.4 438.0,265.2 439.9,264.4 438.5,261.8 437.0,259.3 433.9,258.6 432.0,255.7"/>
<path d="M454.5,274.5 454.3,277.4 450.1,276.8 445.8,275.5 440.9,272.8 442.6,270.0"/>
<path d="M455.9,275.6 457.4,276.8 461.1,276.4 461.1,274.7"/>
<path d="M437.0,259.3 430.5,260.9 431.5,264.8 431.2,268.4 428.8,270.8 424.5,274.3 423.0,276.8 424.9,278.7 425.4,281.1 421.6,281.3 420.6,282.4"/>
<path d="M454.3,277.4 456.0,277.6 457.4,278.1 457.4,279.4 461.1,279.6 461.8,280.2 459.8,281.9 460.5,283.7 461.7,282.4 462.2,286.9"/>
<path d="M454.3,277.4 454.5,280.2 455.5,281.3 455.7,283.4 456.0,286.0"/>
<path d="M470.3,273.9 466.6,276.8 465.6,279.6 464.7,282.1 463.4,281.9 463.5,285.6 462.2,286.9"/>
<path d="M474.9,286.5 473.1,289.1 471.0,291.9 470.9,293.2 472.4,295.9 471.7,298.0 473.4,301.3 474.1,303.8 472.7,306.2"/>
<path d="M474.9,286.5 475.6,288.9 476.8,290.1 476.8,293.7 478.3,292.5 481.6,292.3 482.9,293.9 482.9,295.7 484.1,297.1 484.3,299.2 479.9,299.6 478.7,300.6 479.7,303.8"/>
<path d="M478.5,284.8 479.9,287.8 482.6,288.5 481.6,290.3 483.6,291.8 485.8,294.6 487.5,298.0 487.5,298.9"/>
<path d="M484.3,299.2 487.5,298.9 487.5,302.7 485.0,303.9 484.8,305.2 482.4,306.2"/>
<path d="M474.9,312.9 476.5,314.1 478.3,313.4"/>
<path d="M491.1,320.6 492.6,322.5 494.9,322.3 496.9,321.4 500.0,320.8 501.3,318.0 504.6,316.8"/>
<path d="M300.8,260.1 301.6,263.4 302.5,266.0 298.5,267.0 296.0,269.8 289.7,272.9 289.7,274.9"/>
<path d="M282.0,274.9 289.7,274.9 289.7,278.1 284.1,278.1 284.1,282.8 282.4,283.7 282.4,286.9 275.6,286.9"/>
<path d="M289.7,275.6 296.3,280.0 293.4,280.0 295.1,295.5 295.1,297.3 288.3,297.5 284.9,297.1 283.7,298.5"/>
<path d="M276.4,296.4 279.8,295.3 282.4,297.3 283.7,298.5 285.1,302.7 281.2,302.2 276.1,302.7"/>
<path d="M285.1,302.7 289.2,302.7 290.9,306.5 290.0,311.0 288.5,311.4 287.0,309.5 285.1,312.2"/>
<path d="M281.9,308.6 284.9,306.9 287.0,309.5"/>
<path d="M290.0,311.0 291.7,316.5"/>
<path d="M279.0,305.2 281.2,303.9 281.2,302.2"/>
<path d="M296.3,280.0 306.5,287.2 310.1,290.9 311.7,290.7 314.7,290.0 317.3,287.8 324.9,282.8"/>
<path d="M324.9,282.8 321.5,281.0 320.7,277.6 321.2,273.7 320.7,270.0"/>
<path d="M320.7,270.0 319.8,266.4 317.4,264.0 318.6,260.3 319.1,256.3"/>
<path d="M320.7,270.0 322.0,267.0 324.1,264.0"/>
<path d="M324.9,282.8 330.0,283.7 331.7,283.0 345.4,290.1 345.4,289.2 347.1,289.2 347.1,285.6 347.1,267.2"/>
<path d="M347.1,285.6 367.3,285.6"/>
<path d="M330.0,283.7 330.9,287.4 331.6,288.7 330.9,294.8 327.7,300.4"/>
<path d="M345.4,290.1 345.4,296.9 343.5,297.3 342.1,302.2 343.5,305.3"/>
<path d="M311.7,290.7 311.7,294.8 310.5,297.5 304.8,298.2 303.3,298.0 301.1,299.6 297.0,301.5 295.1,304.3 295.1,306.2"/>
<path d="M295.1,306.2 299.7,307.7 299.7,305.2 304.5,305.0 306.0,305.2 308.6,303.6 308.2,302.5 304.8,298.2"/>
<path d="M290.9,306.5 295.1,306.2"/>
<path d="M310.6,303.9 311.3,300.8 316.4,301.7 320.7,302.0 325.8,301.3 327.7,300.4 328.5,301.7"/>
<path d="M308.6,303.6 310.6,303.9"/>
<path d="M328.5,301.7 329.4,304.3 327.1,306.9 324.6,312.1 321.5,312.4 319.1,315.8"/>
<path d="M299.7,315.3 299.7,307.7"/>
<path d="M306.5,313.6 304.5,305.0"/>
<path d="M309.1,313.3 310.6,303.9"/>
<path d="M307.2,313.4 306.0,305.2"/>
<path d="M328.5,301.7 330.0,306.9 328.2,307.4 330.9,311.2 329.2,314.6 332.1,320.3"/>
<path d="M330.9,311.2 336.2,310.3 343.5,305.3"/>
<path d="M343.5,305.3 344.9,309.1 351.2,315.3"/>
<path d="M332.1,320.3 336.2,318.0 336.0,316.7 337.7,315.5 342.8,317.0 347.1,315.5 351.2,315.3"/>
<path d="M321.2,320.1 323.7,320.3 327.1,320.3 332.1,320.3"/>
<path d="M321.2,322.3 323.7,322.3 323.7,320.3"/>
<path d="M323.4,330.6 324.8,327.9 329.0,327.2 329.2,324.9 328.2,321.6 327.1,320.3"/>
<path d="M325.3,333.9 326.6,331.8 329.0,332.4 331.6,330.6 332.1,327.7 334.8,324.9 335.3,320.3 336.2,318.0"/>
<path d="M325.4,334.2 327.3,334.1 332.8,334.1 334.5,337.8 337.5,337.7 338.6,335.9 341.6,336.5 341.8,340.3 342.5,343.2 345.4,342.7 345.4,346.3"/>
<path d="M345.4,346.3 342.0,346.3 342.0,352.0 344.3,354.5"/>
<path d="M324.6,353.7 328.3,354.1 335.8,354.1 340.3,355.2 344.3,354.5 347.6,354.8"/>
<path d="M345.4,342.7 347.6,343.9 350.8,344.2 353.9,347.0 355.2,347.0 355.2,344.8 352.9,344.4 353.2,340.3 353.7,338.5 356.9,338.0"/>
<path d="M351.2,315.3 354.7,316.5 357.1,318.0 357.8,320.3 354.9,324.0 354.9,326.4 353.9,328.6 354.2,330.5 354.6,331.7 354.9,335.1 356.9,338.0"/>
<path d="M344.9,309.1 346.2,309.1 349.6,307.7 352.2,307.9 355.6,306.4 359.2,303.4 361.0,303.1 360.7,305.7 362.4,307.7"/>
<path d="M362.4,307.7 360.7,310.5 364.6,314.8 362.4,316.8 357.1,318.0"/>
<path d="M362.4,307.7 363.9,305.3 366.0,302.2 366.5,299.2 369.0,298.3 370.1,292.8"/>
<path d="M366.5,299.2 370.9,298.9 374.7,301.3 376.7,302.5 378.1,302.5"/>
<path d="M376.7,302.5 375.7,304.3 377.5,305.2"/>
<path d="M377.5,305.2 377.7,307.7 381.1,309.1 384.5,310.3 386.2,310.3 381.1,315.5 376.0,316.8 374.3,317.4"/>
<path d="M374.3,317.4 371.8,318.2 369.2,317.9 365.8,316.5 364.6,314.8"/>
<path d="M374.3,317.4 374.3,324.0 375.2,326.9"/>
<path d="M362.4,316.8 363.1,318.0 364.1,321.1 362.4,324.0 362.2,325.7 368.5,329.1 368.7,330.0 371.2,332.0"/>
<path d="M362.2,325.7 356.4,325.7 354.9,326.4"/>
<path d="M356.4,325.7 356.9,328.1 356.4,329.6 356.1,331.5 354.6,331.7"/>
<path d="M353.9,328.6 356.9,328.1"/>
<path d="M373.3,342.0 369.2,343.4 365.5,343.7 363.4,343.7 362.9,340.6 360.7,340.1 360.5,340.1 357.3,338.7 356.9,338.0"/>
<path d="M363.4,343.7 363.2,347.2 365.5,349.0 364.6,353.0 362.9,348.8 361.0,348.1 355.9,349.8 356.3,350.9 360.5,352.8 360.3,356.1 360.2,359.7 357.8,363.2 359.0,367.0 359.0,369.9 360.5,371.4"/>
<path d="M356.3,350.9 353.7,351.6 350.5,355.0 347.6,354.8"/>
<path d="M361.0,348.1 360.7,343.7 360.5,340.1"/>
<path d="M340.3,355.2 340.3,362.4 338.6,362.4 338.6,367.6 339.9,371.4 343.2,368.9 347.9,369.3 350.5,365.4 354.6,362.8 357.8,363.2"/>
<path d="M347.6,354.8 348.8,357.9 351.7,359.7 354.6,362.8"/>
<path d="M338.6,367.6 338.6,374.5 332.6,375.1"/>
<path d="M350.5,376.8 353.2,374.9 354.6,376.6 352.2,378.8 350.5,376.8"/>
<path d="M357.3,369.9 359.0,369.9 359.0,372.2 357.3,372.2 357.3,369.9"/>
<path d="M544.4,326.1 544.4,337.1"/>
</g>
<g style="filter:blur(.6px)">
<path d="M111.2,186.0 117.8,192.6 106.3,204.1 99.7,197.5Z" fill="url(#gca)"/>
<path d="M120.7,238.0 141.9,259.2 105.2,296.0 83.9,274.7Z" fill="url(#gus)"/>
<path d="M128.4,285.9 135.0,292.5 123.5,304.0 116.9,297.4Z" fill="url(#gmx)"/>
<path d="M199.1,331.3 214.5,346.7 187.8,373.4 172.4,358.0Z" fill="url(#gbr)"/>
<path d="M179.3,383.4 182.5,386.6 177.1,391.9 174.0,388.8Z" fill="url(#gcl)"/>
<path d="M193.2,374.3 203.0,384.1 185.9,401.3 176.0,391.4Z" fill="url(#gar)"/>
<path d="M287.1,200.3 304.1,217.3 274.7,246.7 257.7,229.7Z" fill="url(#guk)"/>
<path d="M318.7,261.1 320.3,262.7 317.4,265.7 315.7,264.0Z" fill="url(#gtn)"/>
<path d="M335.1,221.5 347.4,233.9 326.0,255.3 313.6,243.0Z" fill="url(#geu)"/>
<path d="M400.6,240.8 408.6,248.8 394.8,262.5 386.9,254.6Z" fill="url(#gne)"/>
<path d="M430.1,277.1 442.4,289.5 421.0,310.9 408.6,298.6Z" fill="url(#gin)"/>
<path d="M383.3,263.6 395.7,276.0 374.2,297.4 361.9,285.1Z" fill="url(#gme)"/>
<path d="M484.9,168.6 506.1,189.8 469.4,226.6 448.1,205.3Z" fill="url(#gru)"/>
<path d="M471.5,249.7 500.5,278.7 450.3,328.9 421.3,299.9Z" fill="url(#gcn)"/>
<path d="M511.1,331.5 516.4,336.9 507.2,346.0 501.9,340.7Z" fill="url(#gsea)"/>
<path d="M527.3,361.2 535.2,369.2 521.5,382.9 513.6,375.0Z" fill="url(#gau)"/>
<path d="M342.1,377.2 345.3,380.4 339.7,386.1 336.4,382.8Z" fill="url(#gza)"/>
</g>
<g stroke="#4a4a4a" stroke-width="1">
</g>
<g fill="#4560d6">
<circle cx="114.5" cy="189.3" r="4.7"/>
<circle cx="131.3" cy="248.6" r="15"/>
<circle cx="131.7" cy="289.2" r="4.7"/>
<circle cx="206.8" cy="339" r="10.9"/>
<circle cx="180.9" cy="385" r="2.2"/>
<circle cx="198.1" cy="379.2" r="7"/>
<circle cx="295.6" cy="208.8" r="12"/>
<circle cx="319.5" cy="261.9" r="1.2"/>
<circle cx="341.25" cy="227.7" r="8.75"/>
<circle cx="404.6" cy="244.8" r="5.6"/>
<circle cx="436.25" cy="283.3" r="8.75"/>
<circle cx="389.5" cy="269.8" r="8.75"/>
<circle cx="495.5" cy="179.2" r="15"/>
<circle cx="486" cy="264.2" r="20.5"/>
<circle cx="513.75" cy="334.2" r="3.75"/>
<circle cx="531.25" cy="365.2" r="5.6"/>
<circle cx="343.7" cy="378.8" r="2.3"/>
</g>
<g stroke="#66666b" stroke-width="1">
<line x1="114.5" y1="142" x2="114.5" y2="189"/>
<line x1="86" y1="248.8" x2="131" y2="248.8"/>
<line x1="86" y1="289" x2="131.7" y2="289"/>
<line x1="160" y1="339.3" x2="206.75" y2="339.3"/>
<line x1="134" y1="385.1" x2="180.75" y2="385.1"/>
<line x1="198" y1="379" x2="225" y2="379"/>
<line x1="263" y1="208.9" x2="295.6" y2="208.9"/>
<line x1="303.7" y1="261.9" x2="319.5" y2="261.9"/>
<line x1="341.5" y1="178" x2="341.5" y2="227.7"/>
<line x1="404.6" y1="182" x2="404.6" y2="244.5"/>
<line x1="436.5" y1="230" x2="436.5" y2="283"/>
<line x1="389.5" y1="269.5" x2="389.5" y2="325"/>
<line x1="495.5" y1="178.6" x2="560" y2="178.6"/>
<line x1="486" y1="263.9" x2="549" y2="263.9"/>
<line x1="513.75" y1="333.9" x2="562" y2="333.9"/>
<line x1="484" y1="364.9" x2="531.25" y2="364.9"/>
<line x1="343.6" y1="378.5" x2="343.6" y2="406"/>
</g>
<rect x="91" y="105.5" width="46" height="18.5" fill="#464d7c"/>
<rect x="91" y="124.0" width="46" height="18.5" fill="url(#wb)"/>
<text x="114.0" y="120.1" font-size="15.5" font-weight="500" fill="#fff" text-anchor="middle" textLength="36.9" lengthAdjust="spacingAndGlyphs">캐나다</text>
<text x="114.0" y="140.0" font-size="16.9" font-weight="700" fill="#000" stroke="#000" stroke-width=".35" text-anchor="middle" textLength="30.6" lengthAdjust="spacingAndGlyphs">1650</text>
<rect x="40.5" y="230.5" width="45.5" height="18.5" fill="#464d7c"/>
<rect x="40.5" y="249.0" width="45.5" height="18.5" fill="url(#wb)"/>
<text x="63.2" y="245.1" font-size="15.5" font-weight="500" fill="#fff" text-anchor="middle" textLength="24.6" lengthAdjust="spacingAndGlyphs">미국</text>
<text x="63.2" y="265.0" font-size="16.9" font-weight="700" fill="#000" stroke="#000" stroke-width=".35" text-anchor="middle" textLength="38.2" lengthAdjust="spacingAndGlyphs">10000</text>
<rect x="40.5" y="270.5" width="45.5" height="18.5" fill="#464d7c"/>
<rect x="40.5" y="289.0" width="45.5" height="18.5" fill="url(#wb)"/>
<text x="63.2" y="285.1" font-size="15.5" font-weight="500" fill="#fff" text-anchor="middle" textLength="36.9" lengthAdjust="spacingAndGlyphs">멕시코</text>
<text x="63.2" y="305.0" font-size="16.9" font-weight="700" fill="#000" stroke="#000" stroke-width=".35" text-anchor="middle" textLength="30.6" lengthAdjust="spacingAndGlyphs">1500</text>
<rect x="114.8" y="319.7" width="45.5" height="18.5" fill="#464d7c"/>
<rect x="114.8" y="338.2" width="45.5" height="18.5" fill="url(#wb)"/>
<text x="137.6" y="334.3" font-size="15.5" font-weight="500" fill="#fff" text-anchor="middle" textLength="36.9" lengthAdjust="spacingAndGlyphs">브라질</text>
<text x="137.6" y="354.2" font-size="16.9" font-weight="700" fill="#000" stroke="#000" stroke-width=".35" text-anchor="middle" textLength="30.6" lengthAdjust="spacingAndGlyphs">6200</text>
<rect x="88.5" y="366.5" width="45.5" height="18.5" fill="#464d7c"/>
<rect x="88.5" y="385.0" width="45.5" height="18.5" fill="url(#wb)"/>
<text x="111.2" y="381.1" font-size="15.5" font-weight="500" fill="#fff" text-anchor="middle" textLength="24.6" lengthAdjust="spacingAndGlyphs">칠레</text>
<text x="111.2" y="401.0" font-size="16.9" font-weight="700" fill="#000" stroke="#000" stroke-width=".35" text-anchor="middle" textLength="23.0" lengthAdjust="spacingAndGlyphs">300</text>
<rect x="224.5" y="360" width="70" height="18.5" fill="#464d7c"/>
<rect x="224.5" y="378.5" width="70" height="18.5" fill="url(#wb)"/>
<text x="259.5" y="374.6" font-size="15.5" font-weight="500" fill="#fff" text-anchor="middle" textLength="61.5" lengthAdjust="spacingAndGlyphs">아르헨티나</text>
<text x="259.5" y="394.5" font-size="16.9" font-weight="700" fill="#000" stroke="#000" stroke-width=".35" text-anchor="middle" textLength="30.6" lengthAdjust="spacingAndGlyphs">2900</text>
<rect x="218" y="190" width="45" height="18.5" fill="#464d7c"/>
<rect x="218" y="208.5" width="45" height="18.5" fill="url(#wb)"/>
<text x="240.5" y="204.6" font-size="15.5" font-weight="500" fill="#fff" text-anchor="middle" textLength="24.6" lengthAdjust="spacingAndGlyphs">영국</text>
<text x="240.5" y="224.5" font-size="16.9" font-weight="700" fill="#000" stroke="#000" stroke-width=".35" text-anchor="middle" textLength="30.6" lengthAdjust="spacingAndGlyphs">7000</text>
<rect x="258.6" y="243.5" width="45" height="18.5" fill="#464d7c"/>
<rect x="258.6" y="262.0" width="45" height="18.5" fill="url(#wb)"/>
<text x="281.1" y="258.1" font-size="15.5" font-weight="500" fill="#fff" text-anchor="middle" textLength="36.9" lengthAdjust="spacingAndGlyphs">튀니지</text>
<text x="281.1" y="278.0" font-size="16.9" font-weight="700" fill="#000" stroke="#000" stroke-width=".35" text-anchor="middle" textLength="23.0" lengthAdjust="spacingAndGlyphs">160</text>
<rect x="318.6" y="142" width="45.2" height="18.5" fill="#464d7c"/>
<rect x="318.6" y="160.5" width="45.2" height="18.5" fill="url(#wb)"/>
<text x="341.2" y="156.6" font-size="15.5" font-weight="500" fill="#fff" text-anchor="middle" textLength="24.6" lengthAdjust="spacingAndGlyphs">유럽</text>
<text x="341.2" y="176.5" font-size="16.9" font-weight="700" fill="#000" stroke="#000" stroke-width=".35" text-anchor="middle" textLength="30.6" lengthAdjust="spacingAndGlyphs">4400</text>
<rect x="381.8" y="145.6" width="45.4" height="18.5" fill="#464d7c"/>
<rect x="381.8" y="164.1" width="45.4" height="18.5" fill="url(#wb)"/>
<text x="404.5" y="160.2" font-size="15.5" font-weight="500" fill="#fff" text-anchor="middle" textLength="24.6" lengthAdjust="spacingAndGlyphs">근동</text>
<text x="404.5" y="180.1" font-size="16.9" font-weight="700" fill="#000" stroke="#000" stroke-width=".35" text-anchor="middle" textLength="30.6" lengthAdjust="spacingAndGlyphs">2000</text>
<rect x="414.5" y="193.7" width="45.6" height="18.5" fill="#464d7c"/>
<rect x="414.5" y="212.2" width="45.6" height="18.5" fill="url(#wb)"/>
<text x="437.3" y="208.3" font-size="15.5" font-weight="500" fill="#fff" text-anchor="middle" textLength="24.6" lengthAdjust="spacingAndGlyphs">인도</text>
<text x="437.3" y="228.2" font-size="16.9" font-weight="700" fill="#000" stroke="#000" stroke-width=".35" text-anchor="middle" textLength="30.6" lengthAdjust="spacingAndGlyphs">4800</text>
<rect x="366.2" y="325" width="45.8" height="18.5" fill="#464d7c"/>
<rect x="366.2" y="343.5" width="45.8" height="18.5" fill="url(#wb)"/>
<text x="389.1" y="339.6" font-size="15.5" font-weight="500" fill="#fff" text-anchor="middle" textLength="24.6" lengthAdjust="spacingAndGlyphs">중동</text>
<text x="389.1" y="359.5" font-size="16.9" font-weight="700" fill="#000" stroke="#000" stroke-width=".35" text-anchor="middle" textLength="30.6" lengthAdjust="spacingAndGlyphs">5200</text>
<rect x="560" y="159" width="45.5" height="18.5" fill="#464d7c"/>
<rect x="560" y="177.5" width="45.5" height="18.5" fill="url(#wb)"/>
<text x="582.8" y="173.6" font-size="15.5" font-weight="500" fill="#fff" text-anchor="middle" textLength="36.9" lengthAdjust="spacingAndGlyphs">러시아</text>
<text x="582.8" y="193.5" font-size="16.9" font-weight="700" fill="#000" stroke="#000" stroke-width=".35" text-anchor="middle" textLength="38.2" lengthAdjust="spacingAndGlyphs">10000</text>
<rect x="549" y="245.3" width="45" height="18.5" fill="#464d7c"/>
<rect x="549" y="263.8" width="45" height="18.5" fill="url(#wb)"/>
<text x="571.5" y="259.9" font-size="15.5" font-weight="500" fill="#fff" text-anchor="middle" textLength="24.6" lengthAdjust="spacingAndGlyphs">중국</text>
<text x="571.5" y="279.8" font-size="16.9" font-weight="700" fill="#000" stroke="#000" stroke-width=".35" text-anchor="middle" textLength="38.2" lengthAdjust="spacingAndGlyphs">15000</text>
<rect x="562" y="315" width="45" height="18.5" fill="#464d7c"/>
<rect x="562" y="333.5" width="45" height="18.5" fill="url(#wb)"/>
<text x="584.5" y="329.6" font-size="15.5" font-weight="500" fill="#fff" text-anchor="middle" textLength="36.9" lengthAdjust="spacingAndGlyphs">동남아</text>
<text x="584.5" y="349.5" font-size="16.9" font-weight="700" fill="#000" stroke="#000" stroke-width=".35" text-anchor="middle" textLength="30.6" lengthAdjust="spacingAndGlyphs">1125</text>
<rect x="439" y="347" width="45" height="18.5" fill="#464d7c"/>
<rect x="439" y="365.5" width="45" height="18.5" fill="url(#wb)"/>
<text x="461.5" y="361.6" font-size="15.5" font-weight="500" fill="#fff" text-anchor="middle" textLength="24.6" lengthAdjust="spacingAndGlyphs">호주</text>
<text x="461.5" y="381.5" font-size="16.9" font-weight="700" fill="#000" stroke="#000" stroke-width=".35" text-anchor="middle" textLength="30.6" lengthAdjust="spacingAndGlyphs">2000</text>
<rect x="321.5" y="406" width="45" height="18.5" fill="#464d7c"/>
<rect x="321.5" y="424.5" width="45" height="18.5" fill="url(#wb)"/>
<text x="344.0" y="420.6" font-size="15.5" font-weight="500" fill="#fff" text-anchor="middle" textLength="36.9" lengthAdjust="spacingAndGlyphs">남아공</text>
<text x="344.0" y="440.5" font-size="16.9" font-weight="700" fill="#000" stroke="#000" stroke-width=".35" text-anchor="middle" textLength="23.0" lengthAdjust="spacingAndGlyphs">600</text>
<rect x="279.5" y="63.3" width="327" height="23.8" fill="#fff" stroke="#d0d0d0" stroke-width="1"/>
<g font-size="17.3" fill="#111"><text x="289.5" y="81.6" textLength="184" lengthAdjust="spacingAndGlyphs">2035년 총 SMR 예상 설치규모:</text><text x="480.5" y="81.6" textLength="117.5" lengthAdjust="spacingAndGlyphs">65～85GW(기가와트)</text></g>
<g font-size="25.5" font-weight="700" fill="#111" lengthAdjust="spacingAndGlyphs"><text x="13" y="33" textLength="59" lengthAdjust="spacingAndGlyphs">2035년</text><text x="78" y="33" textLength="102" lengthAdjust="spacingAndGlyphs">소형모듈원전</text><text x="181.5" y="33" textLength="50" lengthAdjust="spacingAndGlyphs">(SMR)</text><text x="239" y="33" textLength="32.5" lengthAdjust="spacingAndGlyphs">예상</text><text x="279.5" y="33" textLength="68" lengthAdjust="spacingAndGlyphs">설치규모</text></g>
<text x="13" y="52" font-size="13.3" fill="#222" textLength="95.5" lengthAdjust="spacingAndGlyphs">*단위:MW(메가와트)</text>
<g font-size="13.4" fill="#222"><text x="12.5" y="453.5" textLength="27.5" lengthAdjust="spacingAndGlyphs">*자료:</text><text x="47" y="453.5" textLength="81" lengthAdjust="spacingAndGlyphs">한국원자력연구원</text>
<text x="12.5" y="471.3" textLength="33.5" lengthAdjust="spacingAndGlyphs">그래픽:</text><text x="53" y="471.3" textLength="29" lengthAdjust="spacingAndGlyphs">이지혜</text><text x="90" y="471.3" textLength="47.5" lengthAdjust="spacingAndGlyphs">디자인기자</text></g>
</svg>
</body></html>
